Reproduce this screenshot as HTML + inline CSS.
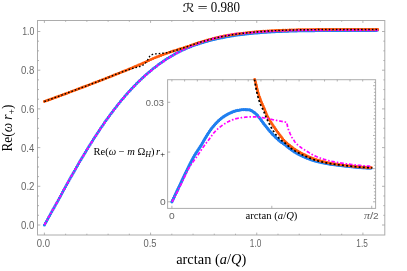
<!DOCTYPE html>
<html><head><meta charset="utf-8"><title>plot</title>
<style>html,body{margin:0;padding:0;background:#fff;overflow:hidden}svg{display:block;will-change:transform;opacity:0.999}</style>
</head><body>
<svg width="407" height="271" viewBox="0 0 407 271">
<rect width="407" height="271" fill="#fff"/>
<g fill="none" stroke-linejoin="round">
<path d="M44.40,225.00 L44.88,224.13 L45.37,223.25 L45.85,222.38 L46.34,221.51 L46.82,220.63 L47.30,219.76 L47.79,218.88 L48.27,218.01 L48.75,217.14 L49.24,216.27 L49.72,215.39 L50.21,214.52 L50.69,213.65 L51.17,212.78 L51.66,211.91 L52.14,211.04 L52.63,210.17 L53.11,209.30 L53.59,208.43 L54.08,207.56 L54.56,206.69 L55.04,205.83 L55.53,204.96 L56.01,204.10 L56.50,203.23 L56.98,202.37 L57.46,201.50 L57.95,200.64 L58.43,199.78 L58.91,198.90 L59.39,198.01 L59.87,197.12 L60.35,196.24 L60.82,195.36 L61.30,194.48 L61.78,193.60 L62.26,192.72 L62.74,191.84 L63.22,190.97 L63.70,190.09 L64.18,189.21 L64.66,188.33 L65.14,187.46 L65.62,186.58 L66.11,185.70 L66.59,184.81 L67.08,183.93 L67.57,183.05 L68.06,182.16 L68.56,181.27 L69.06,180.38 L69.55,179.48 L70.06,178.59 L70.56,177.69 L71.06,176.79 L71.56,175.90 L72.07,175.01 L72.57,174.11 L73.08,173.22 L73.58,172.33 L74.09,171.44 L74.60,170.54 L75.11,169.65 L75.63,168.75 L76.14,167.85 L76.66,166.95 L77.18,166.04 L77.71,165.14 L78.24,164.23 L78.77,163.31 L79.30,162.40 L79.84,161.48 L80.39,160.55 L80.94,159.62 L81.49,158.68 L82.05,157.74 L82.61,156.79 L83.19,155.83 L83.78,154.85 L84.37,153.86 L84.97,152.87 L85.58,151.87 L86.20,150.86 L86.82,149.85 L87.44,148.84 L88.06,147.83 L88.69,146.82 L89.31,145.82 L89.94,144.82 L90.56,143.83 L91.18,142.84 L91.79,141.87 L92.40,140.91 L93.00,139.96 L93.60,139.03 L94.19,138.12 L94.76,137.22 L95.33,136.34 L95.88,135.49 L96.43,134.64 L96.98,133.80 L97.53,132.96 L98.09,132.11 L98.65,131.25 L99.23,130.39 L99.80,129.53 L100.37,128.68 L100.95,127.82 L101.53,126.97 L102.11,126.11 L102.70,125.25 L103.29,124.39 L103.89,123.53 L104.49,122.65 L105.11,121.78 L105.73,120.89 L106.36,120.00 L107.00,119.10 L107.64,118.20 L108.30,117.29 L108.95,116.38 L109.62,115.47 L110.29,114.56 L110.97,113.64 L111.66,112.71 L112.36,111.78 L113.06,110.85 L113.78,109.91 L114.50,108.97 L115.23,108.02 L115.97,107.06 L116.73,106.10 L117.49,105.14 L118.27,104.17 L119.06,103.19 L119.85,102.21 L120.66,101.22 L121.48,100.23 L122.30,99.24 L123.14,98.25 L123.98,97.25 L124.84,96.26 L125.70,95.26 L126.57,94.27 L127.45,93.28 L128.34,92.29 L129.24,91.29 L130.15,90.29 L131.08,89.29 L132.02,88.28 L132.98,87.28 L133.94,86.27 L134.92,85.27 L135.90,84.27 L136.89,83.27 L137.89,82.28 L138.89,81.30 L139.90,80.33 L140.91,79.36 L141.93,78.40 L142.96,77.45 L144.00,76.50 L145.05,75.55 L146.11,74.61 L147.18,73.68 L148.25,72.75 L149.32,71.84 L150.40,70.94 L151.49,70.05 L152.57,69.17 L153.66,68.30 L154.76,67.44 L155.87,66.59 L156.98,65.74 L158.10,64.91 L159.22,64.08 L160.35,63.27 L161.48,62.48 L162.60,61.69 L163.73,60.92 L164.85,60.17 L165.98,59.43 L167.12,58.69 L168.27,57.97 L169.41,57.25 L170.55,56.56 L171.68,55.89 L172.79,55.24 L173.87,54.61 L174.92,54.02 L175.95,53.45 L176.97,52.91 L177.97,52.39 L178.95,51.89 L179.90,51.42 L180.84,50.95 L181.76,50.51 L182.67,50.08 L183.56,49.66 L184.42,49.27 L185.26,48.89 L186.08,48.54 L186.85,48.20 L187.60,47.89 L188.33,47.59 L189.03,47.31 L189.73,47.03 L190.41,46.77 L191.09,46.50 L191.78,46.24 L192.47,45.98 L193.15,45.73 L193.83,45.48 L194.50,45.24 L195.17,45.01 L195.84,44.78 L196.50,44.55 L197.17,44.32 L197.85,44.09 L198.53,43.87 L199.22,43.64 L199.92,43.42 L200.62,43.20 L201.32,42.98 L202.03,42.76 L202.73,42.54 L203.44,42.33 L204.16,42.12 L204.87,41.91 L205.59,41.70 L206.32,41.50 L207.05,41.30 L207.78,41.09 L208.52,40.89 L209.26,40.69 L210.01,40.50 L210.77,40.30 L211.53,40.11 L212.30,39.91 L213.07,39.72 L213.85,39.53 L214.64,39.34 L215.43,39.16 L216.23,38.97 L217.04,38.79 L217.85,38.61 L218.66,38.43 L219.49,38.25 L220.32,38.07 L221.15,37.90 L222.00,37.72 L222.85,37.55 L223.70,37.38 L224.57,37.21 L225.46,37.04 L226.36,36.87 L227.27,36.70 L228.19,36.53 L229.12,36.37 L230.05,36.20 L230.97,36.05 L231.89,35.89 L232.81,35.74 L233.71,35.60 L234.61,35.46 L235.50,35.33 L236.38,35.20 L237.26,35.08 L238.14,34.96 L239.03,34.84 L239.91,34.72 L240.79,34.61 L241.68,34.50 L242.58,34.39 L243.48,34.28 L244.39,34.17 L245.31,34.07 L246.24,33.96 L247.18,33.86 L248.13,33.75 L249.08,33.65 L250.04,33.55 L251.01,33.46 L251.98,33.36 L252.95,33.27 L253.94,33.18 L254.92,33.09 L255.91,33.00 L256.91,32.91 L257.90,32.83 L258.91,32.75 L259.91,32.67 L260.93,32.59 L261.95,32.51 L262.98,32.44 L264.01,32.36 L265.05,32.29 L266.09,32.22 L267.13,32.15 L268.17,32.09 L269.22,32.02 L270.26,31.96 L271.31,31.90 L272.36,31.85 L273.41,31.79 L274.47,31.73 L275.53,31.68 L276.59,31.63 L277.65,31.58 L278.72,31.53 L279.79,31.49 L280.86,31.44 L281.94,31.40 L283.02,31.35 L284.10,31.31 L285.19,31.27 L286.28,31.23 L287.38,31.20 L288.47,31.16 L289.57,31.12 L290.67,31.09 L291.78,31.06 L292.88,31.03 L293.98,31.00 L295.08,30.97 L296.19,30.94 L297.29,30.91 L298.40,30.89 L299.50,30.86 L300.61,30.84 L301.72,30.82 L302.83,30.80 L303.94,30.78 L305.05,30.76 L306.16,30.74 L307.27,30.72 L308.39,30.71 L309.50,30.69 L310.62,30.68 L311.74,30.66 L312.85,30.65 L313.97,30.63 L315.09,30.62 L316.21,30.61 L317.33,30.60 L318.45,30.59 L319.57,30.58 L320.69,30.57 L321.81,30.56 L322.93,30.56 L324.04,30.55 L325.16,30.54 L326.28,30.54 L327.40,30.53 L328.52,30.53 L329.64,30.52 L330.76,30.52 L331.88,30.52 L333.00,30.51 L334.12,30.51 L335.25,30.51 L336.37,30.51 L337.49,30.51 L338.61,30.50 L339.73,30.50 L340.85,30.50 L341.97,30.50 L343.09,30.50 L344.21,30.50 L345.33,30.51 L346.46,30.51 L347.58,30.51 L348.70,30.51 L349.82,30.51 L350.94,30.51 L352.07,30.51 L353.19,30.51 L354.31,30.52 L355.44,30.52 L356.56,30.52 L357.68,30.52 L358.81,30.52 L359.93,30.52 L361.06,30.52 L362.18,30.53 L363.31,30.53 L364.43,30.53 L365.56,30.53 L366.68,30.53 L367.81,30.54 L368.93,30.54 L370.06,30.54 L371.19,30.54 L372.31,30.54 L373.44,30.54 L374.57,30.55 L375.69,30.55 L376.82,30.55 L377.95,30.55" stroke="#1f7ff0" stroke-width="2.0" stroke-linecap="round"/>
<path d="M44.40,225.00 L44.88,224.13 L45.37,223.25 L45.85,222.38 L46.34,221.51 L46.82,220.63 L47.30,219.76 L47.79,218.88 L48.27,218.01 L48.75,217.14 L49.24,216.27 L49.72,215.39 L50.21,214.52 L50.69,213.65 L51.17,212.78 L51.66,211.91 L52.14,211.04 L52.63,210.17 L53.11,209.30 L53.59,208.43 L54.08,207.56 L54.56,206.69 L55.04,205.83 L55.53,204.96 L56.01,204.10 L56.50,203.23 L56.98,202.37 L57.46,201.50 L57.95,200.64 L58.43,199.78 L58.91,198.90 L59.39,198.01 L59.87,197.12 L60.35,196.24 L60.82,195.36 L61.30,194.48 L61.78,193.60 L62.26,192.72 L62.74,191.84 L63.22,190.97 L63.70,190.09 L64.18,189.21 L64.66,188.33 L65.14,187.46 L65.62,186.58 L66.11,185.70 L66.59,184.81 L67.08,183.93 L67.57,183.05 L68.06,182.16 L68.56,181.27 L69.06,180.38 L69.55,179.48 L70.06,178.59 L70.56,177.69 L71.06,176.79 L71.56,175.90 L72.07,175.01 L72.57,174.11 L73.08,173.22 L73.58,172.33 L74.09,171.44 L74.60,170.54 L75.11,169.65 L75.63,168.75 L76.14,167.85 L76.66,166.95 L77.18,166.04 L77.71,165.14 L78.24,164.23 L78.77,163.31 L79.30,162.40 L79.84,161.48 L80.39,160.55 L80.94,159.62 L81.49,158.68 L82.05,157.74 L82.61,156.79 L83.19,155.83 L83.78,154.85 L84.37,153.86 L84.97,152.87 L85.58,151.87 L86.20,150.86 L86.82,149.85 L87.44,148.84 L88.06,147.83 L88.69,146.82 L89.31,145.82 L89.94,144.82 L90.56,143.83 L91.18,142.84 L91.79,141.87 L92.40,140.91 L93.00,139.96 L93.60,139.03 L94.19,138.12 L94.76,137.22 L95.33,136.34 L95.88,135.49 L96.43,134.64 L96.98,133.80 L97.53,132.96 L98.09,132.11 L98.65,131.25 L99.23,130.39 L99.80,129.53 L100.37,128.68 L100.95,127.82 L101.53,126.97 L102.11,126.11 L102.70,125.25 L103.29,124.39 L103.89,123.53 L104.49,122.65 L105.11,121.78 L105.73,120.89 L106.36,120.00 L107.00,119.10 L107.64,118.20 L108.30,117.29 L108.95,116.38 L109.62,115.47 L110.29,114.56 L110.97,113.64 L111.66,112.71 L112.36,111.78 L113.06,110.85 L113.78,109.91 L114.50,108.97 L115.23,108.02 L115.97,107.06 L116.73,106.10 L117.49,105.14 L118.27,104.17 L119.06,103.19 L119.85,102.21 L120.66,101.22 L121.48,100.23 L122.30,99.24 L123.14,98.25 L123.98,97.25 L124.84,96.26 L125.70,95.26 L126.57,94.27 L127.45,93.28 L128.34,92.29 L129.24,91.29 L130.15,90.29 L131.08,89.29 L132.02,88.28 L132.98,87.28 L133.94,86.27 L134.92,85.27 L135.90,84.27 L136.89,83.27 L137.89,82.28 L138.89,81.30 L139.90,80.33 L140.91,79.36 L141.93,78.40 L142.96,77.45 L144.00,76.50 L145.05,75.55 L146.11,74.61 L147.18,73.68 L148.25,72.75 L149.32,71.84 L150.40,70.94 L151.49,70.05 L152.57,69.17 L153.66,68.30 L154.76,67.44 L155.87,66.59 L156.98,65.74 L158.10,64.91 L159.22,64.08 L160.35,63.27 L161.48,62.48 L162.60,61.69 L163.73,60.92 L164.85,60.17 L165.98,59.43 L167.12,58.69 L168.27,57.97 L169.41,57.25 L170.55,56.56 L171.68,55.89 L172.79,55.24 L173.87,54.61 L174.92,54.02 L175.95,53.45 L176.97,52.91 L177.97,52.39 L178.95,51.89 L179.90,51.42 L180.84,50.95 L181.76,50.51 L182.67,50.08 L183.56,49.66 L184.42,49.27 L185.26,48.89 L186.08,48.54 L186.85,48.20 L187.60,47.89 L188.33,47.59 L189.03,47.31 L189.73,47.03 L190.41,46.77 L191.09,46.50 L191.78,46.24 L192.47,45.98 L193.15,45.73 L193.83,45.48 L194.50,45.24 L195.17,45.01 L195.84,44.78 L196.50,44.55 L197.17,44.32 L197.85,44.09 L198.53,43.87 L199.22,43.64 L199.92,43.42 L200.62,43.20 L201.32,42.98 L202.03,42.76 L202.73,42.54 L203.44,42.33 L204.16,42.12 L204.87,41.91 L205.59,41.70 L206.32,41.50 L207.05,41.30 L207.78,41.09 L208.52,40.89 L209.26,40.69 L210.01,40.50 L210.77,40.30 L211.53,40.11 L212.30,39.91 L213.07,39.72 L213.85,39.53 L214.64,39.34 L215.43,39.16 L216.23,38.97 L217.04,38.79 L217.85,38.61 L218.66,38.43 L219.49,38.25 L220.32,38.07 L221.15,37.90 L222.00,37.72 L222.85,37.55 L223.70,37.38 L224.57,37.21 L225.46,37.04 L226.36,36.87 L227.27,36.70 L228.19,36.53 L229.12,36.37 L230.05,36.20 L230.97,36.05 L231.89,35.89 L232.81,35.74 L233.71,35.60 L234.61,35.46 L235.50,35.33 L236.38,35.20 L237.26,35.08 L238.14,34.96 L239.03,34.84 L239.91,34.72 L240.79,34.61 L241.68,34.50 L242.58,34.39 L243.48,34.28 L244.39,34.17 L245.31,34.07 L246.24,33.96 L247.18,33.86 L248.13,33.75 L249.08,33.65 L250.04,33.55 L251.01,33.46 L251.98,33.36 L252.95,33.27 L253.94,33.18 L254.92,33.09 L255.91,33.00 L256.91,32.91 L257.90,32.83 L258.91,32.75 L259.91,32.67 L260.93,32.59 L261.95,32.51 L262.98,32.44 L264.01,32.36 L265.05,32.29 L266.09,32.22 L267.13,32.15 L268.17,32.09 L269.22,32.02 L270.26,31.96 L271.31,31.90 L272.36,31.85 L273.41,31.79 L274.47,31.73 L275.53,31.68 L276.59,31.63 L277.65,31.58 L278.72,31.53 L279.79,31.49 L280.86,31.44 L281.94,31.40 L283.02,31.35 L284.10,31.31 L285.19,31.27 L286.28,31.23 L287.38,31.20 L288.47,31.16 L289.57,31.12 L290.67,31.09 L291.78,31.06 L292.88,31.03 L293.98,31.00 L295.08,30.97 L296.19,30.94 L297.29,30.91 L298.40,30.89 L299.50,30.86 L300.61,30.84 L301.72,30.82 L302.83,30.80 L303.94,30.78 L305.05,30.76 L306.16,30.74 L307.27,30.72 L308.39,30.71 L309.50,30.69 L310.62,30.68 L311.74,30.66 L312.85,30.65 L313.97,30.63 L315.09,30.62 L316.21,30.61 L317.33,30.60 L318.45,30.59 L319.57,30.58 L320.69,30.57 L321.81,30.56 L322.93,30.56 L324.04,30.55 L325.16,30.54 L326.28,30.54 L327.40,30.53 L328.52,30.53 L329.64,30.52 L330.76,30.52 L331.88,30.52 L333.00,30.51 L334.12,30.51 L335.25,30.51 L336.37,30.51 L337.49,30.51 L338.61,30.50 L339.73,30.50 L340.85,30.50 L341.97,30.50 L343.09,30.50 L344.21,30.50 L345.33,30.51 L346.46,30.51 L347.58,30.51 L348.70,30.51 L349.82,30.51 L350.94,30.51 L352.07,30.51 L353.19,30.51 L354.31,30.52 L355.44,30.52 L356.56,30.52 L357.68,30.52 L358.81,30.52 L359.93,30.52 L361.06,30.52 L362.18,30.53 L363.31,30.53 L364.43,30.53 L365.56,30.53 L366.68,30.53 L367.81,30.54 L368.93,30.54 L370.06,30.54 L371.19,30.54 L372.31,30.54 L373.44,30.54 L374.57,30.55 L375.69,30.55 L376.82,30.55 L377.95,30.55" stroke="#1f7ff0" stroke-width="3.0" stroke-linecap="round" stroke-dasharray="0 2.2"/>
<path d="M44.40,101.50 L45.31,101.17 L46.22,100.84 L47.14,100.51 L48.05,100.19 L48.96,99.86 L49.87,99.52 L50.78,99.19 L51.69,98.86 L52.61,98.53 L53.52,98.20 L54.43,97.87 L55.34,97.53 L56.25,97.20 L57.16,96.87 L58.07,96.53 L58.98,96.20 L59.89,95.86 L60.80,95.53 L61.71,95.19 L62.62,94.86 L63.53,94.52 L64.44,94.18 L65.34,93.85 L66.25,93.51 L67.16,93.17 L68.07,92.83 L68.98,92.49 L69.89,92.15 L70.80,91.81 L71.70,91.47 L72.61,91.13 L73.52,90.79 L74.43,90.45 L75.33,90.11 L76.24,89.77 L77.15,89.43 L78.05,89.08 L78.96,88.74 L79.87,88.40 L80.77,88.06 L81.68,87.71 L82.59,87.37 L83.49,87.02 L84.40,86.68 L85.31,86.34 L86.21,85.99 L87.12,85.65 L88.02,85.30 L88.93,84.95 L89.83,84.61 L90.74,84.26 L91.64,83.91 L92.55,83.57 L93.46,83.22 L94.36,82.87 L95.26,82.52 L96.17,82.18 L97.07,81.83 L97.98,81.48 L98.88,81.13 L99.79,80.78 L100.69,80.43 L101.60,80.08 L102.50,79.73 L103.40,79.38 L104.31,79.03 L105.21,78.68 L106.11,78.33 L107.02,77.97 L107.92,77.62 L108.82,77.27 L109.72,76.91 L110.63,76.56 L111.53,76.20 L112.43,75.85 L113.33,75.49 L114.23,75.13 L115.13,74.77 L116.03,74.42 L116.93,74.06 L117.84,73.70 L118.73,73.34 L119.63,72.97 L120.53,72.61 L121.43,72.25 L122.33,71.89 L123.23,71.52 L124.13,71.16 L125.02,70.79 L125.92,70.42 L126.82,70.06 L127.72,69.69 L128.61,69.32 L129.51,68.95 L130.40,68.58 L131.30,68.21 L132.19,67.83 L133.09,67.46 L133.98,67.08 L134.88,66.71 L135.77,66.33 L136.66,65.95 L137.55,65.57 L138.44,65.19 L139.33,64.80 L140.22,64.42 L141.11,64.02 L141.99,63.63 L142.88,63.23 L143.76,62.82 L144.64,62.42 L145.52,62.01 L146.40,61.60 L147.28,61.20 L148.16,60.79 L149.04,60.39 L149.93,59.98 L150.81,59.59 L151.70,59.19 L152.59,58.81 L153.48,58.43 L154.37,58.05 L155.27,57.69 L156.16,57.32 L157.06,56.96 L157.96,56.60 L158.87,56.25 L159.77,55.90 L160.67,55.55 L161.58,55.20 L162.49,54.86 L163.40,54.52 L164.31,54.18 L165.22,53.85 L166.13,53.52 L167.04,53.19 L167.96,52.87 L168.87,52.55 L169.79,52.23 L170.70,51.92 L171.62,51.62 L172.54,51.32 L173.47,51.02 L174.39,50.73 L175.32,50.44 L176.24,50.15 L177.17,49.86 L178.09,49.57 L179.02,49.29 L179.95,49.00 L180.87,48.72 L181.80,48.43 L182.73,48.13 L183.65,47.84 L184.57,47.54 L185.49,47.24 L186.41,46.93 L187.33,46.62 L188.25,46.30 L189.16,45.98 L190.08,45.66 L190.99,45.34 L191.91,45.02 L192.82,44.70 L193.74,44.38 L194.65,44.06 L195.57,43.75 L196.49,43.43 L197.41,43.13 L198.33,42.83 L199.25,42.53 L200.18,42.25 L201.10,41.96 L202.03,41.68 L202.96,41.41 L203.89,41.13 L204.82,40.86 L205.75,40.60 L206.69,40.33 L207.62,40.07 L208.56,39.81 L209.49,39.56 L210.43,39.31 L211.37,39.06 L212.31,38.82 L213.24,38.58 L214.18,38.34 L215.12,38.11 L216.06,37.87 L217.01,37.64 L217.95,37.41 L218.89,37.19 L219.83,36.97 L220.78,36.75 L221.72,36.53 L222.67,36.32 L223.62,36.11 L224.56,35.90 L225.51,35.70 L225.51,35.70 L226.06,35.60 L226.61,35.51 L227.16,35.42 L227.71,35.33 L228.27,35.24 L228.84,35.15 L229.40,35.06 L229.98,34.97 L230.56,34.88 L231.15,34.79 L231.75,34.70 L232.35,34.61 L232.97,34.52 L233.60,34.42 L234.23,34.33 L234.88,34.24 L235.54,34.14 L236.21,34.05 L236.89,33.95 L237.57,33.86 L238.27,33.77 L238.97,33.67 L239.67,33.58 L240.38,33.49 L241.10,33.40 L241.82,33.31 L242.54,33.22 L243.26,33.13 L243.99,33.05 L244.71,32.96 L245.44,32.88 L246.17,32.80 L246.90,32.72 L247.64,32.64 L248.38,32.56 L249.13,32.49 L249.88,32.41 L250.64,32.34 L251.40,32.26 L252.16,32.19 L252.93,32.12 L253.70,32.05 L254.47,31.98 L255.25,31.91 L256.03,31.84 L256.81,31.78 L257.59,31.71 L258.38,31.65 L259.17,31.58 L259.96,31.52 L260.76,31.46 L261.56,31.40 L262.37,31.34 L263.18,31.29 L263.99,31.23 L264.81,31.18 L265.62,31.12 L266.44,31.07 L267.26,31.02 L268.09,30.97 L268.91,30.92 L269.73,30.87 L270.56,30.82 L271.38,30.78 L272.21,30.73 L273.04,30.69 L273.87,30.65 L274.71,30.61 L275.54,30.57 L276.38,30.53 L277.22,30.49 L278.06,30.46 L278.90,30.42 L279.75,30.38 L280.59,30.35 L281.44,30.32 L282.30,30.28 L283.15,30.25 L284.01,30.22 L284.87,30.19 L285.73,30.16 L286.60,30.13 L287.46,30.10 L288.33,30.08 L289.21,30.05 L290.08,30.02 L290.95,30.00 L291.83,29.97 L292.70,29.95 L293.58,29.93 L294.45,29.91 L295.33,29.89 L296.21,29.87 L297.09,29.85 L297.97,29.83 L298.85,29.81 L299.73,29.79 L300.61,29.77 L301.50,29.76 L302.38,29.74 L303.27,29.73 L304.15,29.71 L305.04,29.70 L305.93,29.68 L306.82,29.67 L307.70,29.66 L308.60,29.65 L309.49,29.63 L310.38,29.62 L311.27,29.61 L312.17,29.60 L313.06,29.59 L313.96,29.58 L314.85,29.57 L315.75,29.57 L316.65,29.56 L317.54,29.55 L318.44,29.54 L319.34,29.53 L320.24,29.53 L321.13,29.52 L322.03,29.52 L322.93,29.51 L323.83,29.51 L324.72,29.50 L325.62,29.50 L326.52,29.49 L327.42,29.49 L328.32,29.49 L329.22,29.48 L330.12,29.48 L331.02,29.48 L331.92,29.47 L332.82,29.47 L333.71,29.47 L334.61,29.47 L335.51,29.47 L336.41,29.47 L337.31,29.47 L338.21,29.47 L339.11,29.47 L340.01,29.47 L340.91,29.47 L341.81,29.47 L342.71,29.47 L343.61,29.47 L344.52,29.47 L345.42,29.47 L346.32,29.47 L347.22,29.47 L348.12,29.47 L349.02,29.47 L349.92,29.47 L350.82,29.48 L351.72,29.48 L352.63,29.48 L353.53,29.48 L354.43,29.48 L355.33,29.48 L356.24,29.48 L357.14,29.48 L358.04,29.49 L358.94,29.49 L359.85,29.49 L360.75,29.49 L361.65,29.49 L362.56,29.49 L363.46,29.49 L364.37,29.50 L365.27,29.50 L366.18,29.50 L367.08,29.50 L367.99,29.50 L368.89,29.50 L369.80,29.50 L370.70,29.50 L371.61,29.51 L372.51,29.51 L373.42,29.51 L374.32,29.51 L375.23,29.51 L376.14,29.51 L377.04,29.51 L377.95,29.51" stroke="#ff5a0a" stroke-width="2.0" stroke-linecap="round"/>
<path d="M44.40,101.50 L45.31,101.17 L46.22,100.84 L47.14,100.51 L48.05,100.19 L48.96,99.86 L49.87,99.52 L50.78,99.19 L51.69,98.86 L52.61,98.53 L53.52,98.20 L54.43,97.87 L55.34,97.53 L56.25,97.20 L57.16,96.87 L58.07,96.53 L58.98,96.20 L59.89,95.86 L60.80,95.53 L61.71,95.19 L62.62,94.86 L63.53,94.52 L64.44,94.18 L65.34,93.85 L66.25,93.51 L67.16,93.17 L68.07,92.83 L68.98,92.49 L69.89,92.15 L70.80,91.81 L71.70,91.47 L72.61,91.13 L73.52,90.79 L74.43,90.45 L75.33,90.11 L76.24,89.77 L77.15,89.43 L78.05,89.08 L78.96,88.74 L79.87,88.40 L80.77,88.06 L81.68,87.71 L82.59,87.37 L83.49,87.02 L84.40,86.68 L85.31,86.34 L86.21,85.99 L87.12,85.65 L88.02,85.30 L88.93,84.95 L89.83,84.61 L90.74,84.26 L91.64,83.91 L92.55,83.57 L93.46,83.22 L94.36,82.87 L95.26,82.52 L96.17,82.18 L97.07,81.83 L97.98,81.48 L98.88,81.13 L99.79,80.78 L100.69,80.43 L101.60,80.08 L102.50,79.73 L103.40,79.38 L104.31,79.03 L105.21,78.68 L106.11,78.33 L107.02,77.97 L107.92,77.62 L108.82,77.27 L109.72,76.91 L110.63,76.56 L111.53,76.20 L112.43,75.85 L113.33,75.49 L114.23,75.13 L115.13,74.77 L116.03,74.42 L116.93,74.06 L117.84,73.70 L118.73,73.34 L119.63,72.97 L120.53,72.61 L121.43,72.25 L122.33,71.89 L123.23,71.52 L124.13,71.16 L125.02,70.79 L125.92,70.42 L126.82,70.06 L127.72,69.69 L128.61,69.32 L129.51,68.95 L130.40,68.58 L131.30,68.21 L132.19,67.83 L133.09,67.46 L133.98,67.08 L134.88,66.71 L135.77,66.33 L136.66,65.95 L137.55,65.57 L138.44,65.19 L139.33,64.80 L140.22,64.42 L141.11,64.02 L141.99,63.63 L142.88,63.23 L143.76,62.82 L144.64,62.42 L145.52,62.01 L146.40,61.60 L147.28,61.20 L148.16,60.79 L149.04,60.39 L149.93,59.98 L150.81,59.59 L151.70,59.19 L152.59,58.81 L153.48,58.43 L154.37,58.05 L155.27,57.69 L156.16,57.32 L157.06,56.96 L157.96,56.60 L158.87,56.25 L159.77,55.90 L160.67,55.55 L161.58,55.20 L162.49,54.86 L163.40,54.52 L164.31,54.18 L165.22,53.85 L166.13,53.52 L167.04,53.19 L167.96,52.87 L168.87,52.55 L169.79,52.23 L170.70,51.92 L171.62,51.62 L172.54,51.32 L173.47,51.02 L174.39,50.73 L175.32,50.44 L176.24,50.15 L177.17,49.86 L178.09,49.57 L179.02,49.29 L179.95,49.00 L180.87,48.72 L181.80,48.43 L182.73,48.13 L183.65,47.84 L184.57,47.54 L185.49,47.24 L186.41,46.93 L187.33,46.62 L188.25,46.30 L189.16,45.98 L190.08,45.66 L190.99,45.34 L191.91,45.02 L192.82,44.70 L193.74,44.38 L194.65,44.06 L195.57,43.75 L196.49,43.43 L197.41,43.13 L198.33,42.83 L199.25,42.53 L200.18,42.25 L201.10,41.96 L202.03,41.68 L202.96,41.41 L203.89,41.13 L204.82,40.86 L205.75,40.60 L206.69,40.33 L207.62,40.07 L208.56,39.81 L209.49,39.56 L210.43,39.31 L211.37,39.06 L212.31,38.82 L213.24,38.58 L214.18,38.34 L215.12,38.11 L216.06,37.87 L217.01,37.64 L217.95,37.41 L218.89,37.19 L219.83,36.97 L220.78,36.75 L221.72,36.53 L222.67,36.32 L223.62,36.11 L224.56,35.90 L225.51,35.70 L225.51,35.70 L226.06,35.60 L226.61,35.51 L227.16,35.42 L227.71,35.33 L228.27,35.24 L228.84,35.15 L229.40,35.06 L229.98,34.97 L230.56,34.88 L231.15,34.79 L231.75,34.70 L232.35,34.61 L232.97,34.52 L233.60,34.42 L234.23,34.33 L234.88,34.24 L235.54,34.14 L236.21,34.05 L236.89,33.95 L237.57,33.86 L238.27,33.77 L238.97,33.67 L239.67,33.58 L240.38,33.49 L241.10,33.40 L241.82,33.31 L242.54,33.22 L243.26,33.13 L243.99,33.05 L244.71,32.96 L245.44,32.88 L246.17,32.80 L246.90,32.72 L247.64,32.64 L248.38,32.56 L249.13,32.49 L249.88,32.41 L250.64,32.34 L251.40,32.26 L252.16,32.19 L252.93,32.12 L253.70,32.05 L254.47,31.98 L255.25,31.91 L256.03,31.84 L256.81,31.78 L257.59,31.71 L258.38,31.65 L259.17,31.58 L259.96,31.52 L260.76,31.46 L261.56,31.40 L262.37,31.34 L263.18,31.29 L263.99,31.23 L264.81,31.18 L265.62,31.12 L266.44,31.07 L267.26,31.02 L268.09,30.97 L268.91,30.92 L269.73,30.87 L270.56,30.82 L271.38,30.78 L272.21,30.73 L273.04,30.69 L273.87,30.65 L274.71,30.61 L275.54,30.57 L276.38,30.53 L277.22,30.49 L278.06,30.46 L278.90,30.42 L279.75,30.38 L280.59,30.35 L281.44,30.32 L282.30,30.28 L283.15,30.25 L284.01,30.22 L284.87,30.19 L285.73,30.16 L286.60,30.13 L287.46,30.10 L288.33,30.08 L289.21,30.05 L290.08,30.02 L290.95,30.00 L291.83,29.97 L292.70,29.95 L293.58,29.93 L294.45,29.91 L295.33,29.89 L296.21,29.87 L297.09,29.85 L297.97,29.83 L298.85,29.81 L299.73,29.79 L300.61,29.77 L301.50,29.76 L302.38,29.74 L303.27,29.73 L304.15,29.71 L305.04,29.70 L305.93,29.68 L306.82,29.67 L307.70,29.66 L308.60,29.65 L309.49,29.63 L310.38,29.62 L311.27,29.61 L312.17,29.60 L313.06,29.59 L313.96,29.58 L314.85,29.57 L315.75,29.57 L316.65,29.56 L317.54,29.55 L318.44,29.54 L319.34,29.53 L320.24,29.53 L321.13,29.52 L322.03,29.52 L322.93,29.51 L323.83,29.51 L324.72,29.50 L325.62,29.50 L326.52,29.49 L327.42,29.49 L328.32,29.49 L329.22,29.48 L330.12,29.48 L331.02,29.48 L331.92,29.47 L332.82,29.47 L333.71,29.47 L334.61,29.47 L335.51,29.47 L336.41,29.47 L337.31,29.47 L338.21,29.47 L339.11,29.47 L340.01,29.47 L340.91,29.47 L341.81,29.47 L342.71,29.47 L343.61,29.47 L344.52,29.47 L345.42,29.47 L346.32,29.47 L347.22,29.47 L348.12,29.47 L349.02,29.47 L349.92,29.47 L350.82,29.48 L351.72,29.48 L352.63,29.48 L353.53,29.48 L354.43,29.48 L355.33,29.48 L356.24,29.48 L357.14,29.48 L358.04,29.49 L358.94,29.49 L359.85,29.49 L360.75,29.49 L361.65,29.49 L362.56,29.49 L363.46,29.49 L364.37,29.50 L365.27,29.50 L366.18,29.50 L367.08,29.50 L367.99,29.50 L368.89,29.50 L369.80,29.50 L370.70,29.50 L371.61,29.51 L372.51,29.51 L373.42,29.51 L374.32,29.51 L375.23,29.51 L376.14,29.51 L377.04,29.51 L377.95,29.51" stroke="#ff5a0a" stroke-width="2.9" stroke-linecap="round" stroke-dasharray="0 2.2"/>
<path d="M44.57,224.71 L45.19,223.58 L45.82,222.45 L46.44,221.32 L47.06,220.20 L47.68,219.07 L48.30,217.95 L48.92,216.83 L49.54,215.71 L50.15,214.60 L50.77,213.48 L51.38,212.37 L52.00,211.26 L52.61,210.16 L53.22,209.05 L53.83,207.95 L54.44,206.86 L55.05,205.76 L55.65,204.67 L56.26,203.58 L56.86,202.50 L57.47,201.42 L58.07,200.34 L58.67,199.25 L59.26,198.15 L59.85,197.06 L60.43,195.99 L61.01,194.93 L61.58,193.88 L62.15,192.83 L62.72,191.80 L63.28,190.76 L63.84,189.74 L64.40,188.71 L64.96,187.69 L65.52,186.66 L66.09,185.64 L66.66,184.61 L67.23,183.58 L67.80,182.54 L68.38,181.49 L68.97,180.44 L69.56,179.38 L70.16,178.30 L70.77,177.22 L71.39,176.12 L72.02,175.01 L72.66,173.88 L73.31,172.73 L73.98,171.57 L74.66,170.37 L75.37,169.15 L76.09,167.90 L76.82,166.64 L77.57,165.35 L78.33,164.05 L79.10,162.75 L79.88,161.43 L80.66,160.12 L81.44,158.80 L82.23,157.49 L83.01,156.18 L83.79,154.89 L84.57,153.61 L85.33,152.35 L86.09,151.11 L86.84,149.88 L87.59,148.67 L88.34,147.46 L89.09,146.26 L89.83,145.07 L90.57,143.88 L91.32,142.70 L92.06,141.53 L92.81,140.36 L93.55,139.19 L94.30,138.03 L95.05,136.87 L95.81,135.70 L96.57,134.54 L97.34,133.38 L98.11,132.22 L98.88,131.05 L99.67,129.88 L100.46,128.71 L101.27,127.52 L102.08,126.34 L102.90,125.15 L103.72,123.97 L104.54,122.80 L105.36,121.63 L106.17,120.49 L106.97,119.37 L107.76,118.27 L108.54,117.19 L109.31,116.12 L110.09,115.06 L110.86,114.01 L111.65,112.95 L112.44,111.89 L113.25,110.82 L114.07,109.74 L114.92,108.64 L115.79,107.52 L116.69,106.37 L117.62,105.20 L118.57,104.02 L119.54,102.82 L120.52,101.62 L121.53,100.40 L122.55,99.18 L123.58,97.96 L124.63,96.74 L125.69,95.53 L126.75,94.32 L127.82,93.11 L128.90,91.92 L129.99,90.72 L131.10,89.53 L132.22,88.33 L133.35,87.14 L134.50,85.94 L135.66,84.76 L136.83,83.58 L138.02,82.41 L139.20,81.25 L140.40,80.10 L141.61,78.96 L142.83,77.83 L144.07,76.70 L145.31,75.57 L146.57,74.46 L147.84,73.36 L149.11,72.28 L150.39,71.20 L151.68,70.15 L152.96,69.12 L154.25,68.10 L155.55,67.09 L156.86,66.09 L158.18,65.11 L159.50,64.14 L160.82,63.19 L162.15,62.26 L163.47,61.35 L164.79,60.46 L166.12,59.59 L167.44,58.73 L168.77,57.89 L170.10,57.06 L171.43,56.26 L172.76,55.47 L174.09,54.69 L175.42,53.93 L176.75,53.20 L178.08,52.47 L179.41,51.77 L180.75,51.08 L182.08,50.40 L183.41,49.75 L184.74,49.10 L186.07,48.48 L187.40,47.87 L188.72,47.27 L190.05,46.69 L191.37,46.12 L192.70,45.57 L194.02,45.03 L195.34,44.51 L196.66,44.00 L197.97,43.50 L199.29,43.02 L200.60,42.55 L201.91,42.09 L203.22,41.65 L204.53,41.21 L205.83,40.79 L207.13,40.38 L208.44,39.99 L209.74,39.60 L211.04,39.22 L212.34,38.85 L213.65,38.49 L214.95,38.14 L216.26,37.80 L217.56,37.47 L218.87,37.15 L220.18,36.84 L221.49,36.53 L222.79,36.23 L224.10,35.94 L225.41,35.66 L226.72,35.39 L228.03,35.13 L229.34,34.87 L230.64,34.62 L231.95,34.38 L233.26,34.14 L234.57,33.91 L235.88,33.69 L236.38,33.61 L236.46,33.62 L236.56,33.64 L236.67,33.65 L236.80,33.66 L236.94,33.66 L237.10,33.67 L237.27,33.67 L237.44,33.67 L237.62,33.67 L237.82,33.66 L238.04,33.66 L238.29,33.65 L238.56,33.63 L238.86,33.61 L239.17,33.59 L239.49,33.57 L239.83,33.54 L240.17,33.51 L240.52,33.49 L240.86,33.46 L241.20,33.44 L241.54,33.42 L241.88,33.39 L242.22,33.37 L242.57,33.35 L242.93,33.32 L243.30,33.29 L243.69,33.27 L244.10,33.23 L244.53,33.20 L244.99,33.16 L245.47,33.12 L245.96,33.08 L246.46,33.03 L246.96,32.99 L247.45,32.95 L247.92,32.92 L248.38,32.88 L248.84,32.85 L249.31,32.82 L249.79,32.78 L250.30,32.74 L250.85,32.70 L251.42,32.66 L252.01,32.61 L252.63,32.56 L253.26,32.51 L253.90,32.45 L254.56,32.40 L255.23,32.35 L255.90,32.30 L256.58,32.25 L257.26,32.19 L257.94,32.14 L258.62,32.09 L259.31,32.05 L260.01,32.00 L260.72,31.95 L261.43,31.90 L262.15,31.85 L262.88,31.80 L263.61,31.75 L264.35,31.71 L265.09,31.66 L265.83,31.62 L266.58,31.57 L267.32,31.53 L268.07,31.49 L268.81,31.45 L269.56,31.41 L270.30,31.37 L271.04,31.33 L271.78,31.30 L272.53,31.26 L273.27,31.23 L274.02,31.20 L274.76,31.17 L275.51,31.13 L276.26,31.10 L277.02,31.07 L277.78,31.05 L278.54,31.02 L279.30,30.99 L280.07,30.96 L280.84,30.93 L281.61,30.91 L282.39,30.88 L283.18,30.86 L283.97,30.83 L284.77,30.80 L285.57,30.78 L286.37,30.76 L287.18,30.73 L288.00,30.71 L288.81,30.69 L289.63,30.66 L290.45,30.64 L291.27,30.62 L292.10,30.60 L292.92,30.58 L293.75,30.56 L294.57,30.55 L295.39,30.53 L296.22,30.51 L297.05,30.49 L297.88,30.48 L298.71,30.46 L299.54,30.45 L300.38,30.44 L301.21,30.42 L302.05,30.41 L302.89,30.40 L303.73,30.38 L304.57,30.37 L305.42,30.36 L306.26,30.35 L307.11,30.34 L307.95,30.33 L308.80,30.32 L309.65,30.31 L310.50,30.30 L311.36,30.29 L312.21,30.28 L313.07,30.27 L313.92,30.27 L314.78,30.26 L315.64,30.25 L316.50,30.24 L317.35,30.24 L318.21,30.23 L319.07,30.23 L319.93,30.22 L320.79,30.22 L321.65,30.21 L322.51,30.21 L323.37,30.20 L324.23,30.20 L325.09,30.19 L325.95,30.19 L326.81,30.19 L327.68,30.19 L328.54,30.18 L329.40,30.18 L330.26,30.18 L331.13,30.18 L331.99,30.17 L332.85,30.17 L333.72,30.17 L334.58,30.17 L335.45,30.17 L336.31,30.17 L337.17,30.17 L338.04,30.17 L338.90,30.17 L339.77,30.17 L340.63,30.17 L341.50,30.17 L342.36,30.17 L343.23,30.17 L344.09,30.17 L344.96,30.17 L345.82,30.18 L346.69,30.18 L347.55,30.18 L348.42,30.18 L349.29,30.18 L350.15,30.18 L351.02,30.18 L351.89,30.19 L352.75,30.19 L353.62,30.19 L354.49,30.19 L355.35,30.19 L356.22,30.19 L357.09,30.20 L357.96,30.20 L358.82,30.20 L359.69,30.20 L360.56,30.20 L361.43,30.21 L362.30,30.21 L363.16,30.21 L364.03,30.21 L364.90,30.21 L365.77,30.22 L366.64,30.22 L367.51,30.22 L368.38,30.22 L369.25,30.22 L370.12,30.23 L370.99,30.23 L371.86,30.23 L372.73,30.23 L373.60,30.23 L374.47,30.24 L375.34,30.24 L376.21,30.24 L377.08,30.24 L377.95,30.24" stroke="#ff00ff" stroke-width="1.9" stroke-dasharray="2.8 1.7 1.6 1.7"/>
<path d="M44.40,101.50 L45.01,101.28 L45.62,101.05 L46.24,100.83 L46.85,100.61 L47.46,100.38 L48.07,100.16 L48.69,99.93 L49.30,99.71 L49.91,99.49 L50.52,99.26 L51.13,99.04 L51.75,98.81 L52.36,98.59 L52.97,98.36 L53.58,98.14 L54.19,97.91 L54.80,97.69 L55.42,97.46 L56.03,97.24 L56.64,97.01 L57.25,96.79 L57.86,96.56 L58.47,96.33 L59.08,96.11 L59.70,95.88 L60.31,95.65 L60.92,95.43 L61.53,95.20 L62.14,94.97 L62.75,94.75 L63.36,94.52 L63.97,94.29 L64.58,94.07 L65.19,93.84 L65.81,93.61 L66.42,93.38 L67.03,93.16 L67.64,92.93 L68.25,92.70 L68.86,92.47 L69.47,92.25 L70.08,92.02 L70.69,91.79 L71.30,91.56 L71.91,91.33 L72.52,91.10 L73.13,90.87 L73.74,90.65 L74.35,90.42 L74.96,90.19 L75.57,89.96 L76.18,89.73 L76.79,89.50 L77.40,89.27 L78.01,89.04 L78.62,88.81 L79.23,88.58 L79.84,88.35 L80.45,88.12 L81.06,87.89 L81.67,87.66 L82.28,87.43 L82.89,87.20 L83.50,86.97 L84.11,86.74 L84.72,86.51 L85.33,86.28 L85.94,86.05 L86.55,85.82 L87.16,85.59 L87.77,85.36 L88.38,85.13 L88.99,84.89 L89.60,84.66 L90.21,84.43 L90.81,84.20 L91.42,83.97 L92.03,83.74 L92.64,83.51 L93.25,83.27 L93.86,83.04 L94.47,82.81 L95.08,82.58 L95.69,82.35 L96.30,82.11 L96.91,81.88 L97.51,81.65 L98.12,81.42 L98.73,81.18 L99.34,80.95 L99.95,80.72 L100.56,80.49 L101.17,80.25 L101.77,80.02 L102.38,79.78 L102.99,79.54 L103.60,79.30 L104.20,79.06 L104.81,78.82 L105.41,78.58 L106.02,78.34 L106.63,78.10 L107.23,77.86 L107.84,77.61 L108.44,77.37 L109.05,77.13 L109.65,76.88 L110.26,76.64 L110.86,76.39 L111.47,76.15 L112.07,75.91 L112.68,75.66 L113.28,75.42 L113.89,75.18 L114.49,74.94 L115.10,74.70 L115.70,74.46 L116.31,74.22 L116.92,73.98 L117.52,73.74 L118.13,73.50 L118.74,73.27 L119.35,73.03 L119.95,72.80 L120.56,72.57 L121.17,72.34 L121.78,72.11 L122.39,71.88 L123.00,71.65 L123.61,71.43 L124.23,71.21 L124.84,70.99 L125.45,70.77 L126.07,70.55 L126.68,70.34 L127.30,70.12 L127.91,69.91 L128.53,69.70 L129.15,69.49 L129.77,69.28 L130.39,69.08 L131.01,68.88 L131.63,68.68 L132.25,68.49 L132.87,68.30 L133.50,68.12 L134.12,67.94 L134.76,67.77 L135.39,67.62 L136.03,67.47 L136.67,67.33 L137.31,67.19 L137.95,67.03 L138.58,66.87 L139.20,66.69 L139.81,66.50 L140.42,66.27 L141.03,66.02 L141.64,65.75 L142.24,65.46 L142.81,65.14 L143.35,64.80 L143.86,64.44 L144.36,64.04 L144.85,63.60 L145.33,63.14 L145.79,62.64 L146.22,62.14 L146.63,61.62 L147.01,61.09 L147.35,60.55 L147.64,59.97 L147.89,59.36 L148.15,58.74 L148.44,58.16 L148.78,57.63 L149.17,57.08 L149.59,56.53 L150.04,56.00 L150.52,55.53 L151.02,55.13 L151.55,54.82 L152.10,54.60 L152.71,54.41 L153.35,54.24 L154.02,54.10 L154.68,53.99 L155.33,53.90 L155.98,53.83 L156.63,53.77 L157.28,53.72 L157.93,53.68 L158.58,53.64 L159.23,53.59 L159.88,53.54 L160.53,53.49 L161.18,53.43 L161.83,53.36 L162.48,53.29 L163.13,53.22 L163.78,53.15 L164.42,53.06 L165.07,52.98 L165.71,52.88 L166.35,52.78 L167.00,52.66 L167.64,52.54 L168.28,52.42 L168.92,52.28 L169.55,52.14 L170.18,51.99 L170.81,51.83 L171.44,51.66 L172.07,51.48 L172.70,51.29 L173.32,51.11 L173.95,50.93 L174.57,50.74 L175.20,50.55 L175.82,50.36 L176.44,50.16 L177.06,49.96 L177.68,49.76 L178.30,49.57 L178.93,49.37 L179.55,49.17 L180.17,48.97 L180.79,48.77 L181.41,48.57 L182.03,48.37 L182.65,48.17 L183.27,47.97 L183.89,47.77 L184.51,47.56 L185.12,47.36 L185.74,47.15 L186.36,46.94 L186.98,46.73 L187.59,46.52 L188.21,46.31 L188.83,46.10 L189.44,45.88 L190.06,45.67 L190.67,45.45 L191.29,45.23 L191.90,45.02 L192.52,44.80 L193.13,44.59 L193.75,44.37 L194.37,44.16 L194.98,43.95 L195.60,43.73 L196.22,43.53 L196.83,43.32 L197.45,43.11 L198.07,42.91 L198.69,42.71 L199.31,42.51 L199.93,42.32 L200.56,42.13 L201.18,41.94 L201.80,41.75 L202.43,41.56 L203.05,41.37 L203.68,41.19 L204.30,41.00 L204.93,40.82 L205.55,40.64 L206.18,40.46 L206.81,40.28 L207.44,40.11 L208.07,39.93 L208.69,39.76 L209.32,39.59 L209.95,39.42 L210.58,39.26 L211.22,39.10 L211.85,38.94 L212.48,38.78 L213.11,38.63 L213.74,38.47 L214.38,38.32 L215.01,38.17 L215.64,38.02 L216.28,37.87 L216.91,37.72 L217.55,37.58 L218.18,37.43 L218.82,37.29 L219.46,37.15 L220.09,37.01 L220.73,36.87 L221.37,36.74 L222.01,36.61 L222.65,36.48 L223.29,36.35 L223.93,36.22 L224.57,36.09 L225.21,35.97 L225.21,35.97 L225.89,35.84 L226.58,35.72 L227.29,35.59 L228.01,35.46 L228.74,35.33 L229.47,35.20 L230.22,35.07 L230.96,34.94 L231.71,34.82 L232.45,34.70 L233.19,34.58 L233.93,34.47 L234.65,34.36 L235.37,34.25 L236.08,34.15 L236.77,34.05 L237.44,33.96 L238.08,33.88 L238.72,33.80 L239.35,33.72 L239.99,33.64 L240.65,33.56 L241.34,33.47 L242.05,33.39 L242.77,33.30 L243.50,33.21 L244.25,33.12 L245.00,33.03 L245.77,32.95 L246.54,32.86 L247.32,32.77 L248.11,32.68 L248.91,32.60 L249.71,32.52 L250.51,32.43 L251.32,32.35 L252.13,32.27 L252.95,32.19 L253.76,32.11 L254.58,32.04 L255.40,31.96 L256.22,31.89 L257.03,31.82 L257.84,31.75 L258.66,31.69 L259.47,31.62 L260.28,31.56 L261.10,31.50 L261.92,31.44 L262.75,31.38 L263.58,31.32 L264.41,31.26 L265.24,31.21 L266.08,31.15 L266.91,31.10 L267.75,31.04 L268.59,30.99 L269.44,30.94 L270.28,30.89 L271.12,30.85 L271.97,30.80 L272.82,30.76 L273.67,30.71 L274.52,30.67 L275.37,30.63 L276.23,30.59 L277.08,30.55 L277.94,30.51 L278.80,30.47 L279.67,30.44 L280.53,30.40 L281.40,30.37 L282.27,30.33 L283.14,30.30 L284.01,30.27 L284.89,30.23 L285.77,30.20 L286.65,30.17 L287.54,30.14 L288.43,30.11 L289.31,30.09 L290.20,30.06 L291.10,30.03 L291.99,30.01 L292.88,29.98 L293.77,29.96 L294.67,29.94 L295.56,29.92 L296.46,29.89 L297.35,29.87 L298.25,29.85 L299.15,29.83 L300.05,29.82 L300.95,29.80 L301.85,29.78 L302.75,29.76 L303.65,29.75 L304.56,29.73 L305.46,29.72 L306.36,29.70 L307.27,29.69 L308.17,29.68 L309.08,29.66 L309.98,29.65 L310.89,29.64 L311.80,29.63 L312.71,29.62 L313.62,29.61 L314.53,29.60 L315.44,29.59 L316.35,29.58 L317.26,29.57 L318.17,29.57 L319.08,29.56 L319.99,29.55 L320.90,29.54 L321.81,29.54 L322.72,29.53 L323.63,29.53 L324.55,29.52 L325.46,29.52 L326.37,29.51 L327.28,29.51 L328.20,29.50 L329.11,29.50 L330.02,29.50 L330.93,29.49 L331.85,29.49 L332.76,29.49 L333.67,29.49 L334.59,29.48 L335.50,29.48 L336.41,29.48 L337.33,29.48 L338.24,29.48 L339.15,29.48 L340.07,29.48 L340.98,29.48 L341.89,29.48 L342.81,29.48 L343.72,29.48 L344.63,29.48 L345.55,29.48 L346.46,29.48 L347.37,29.48 L348.29,29.48 L349.20,29.48 L350.12,29.48 L351.03,29.49 L351.95,29.49 L352.86,29.49 L353.78,29.49 L354.69,29.49 L355.61,29.49 L356.52,29.49 L357.44,29.49 L358.35,29.50 L359.27,29.50 L360.18,29.50 L361.10,29.50 L362.02,29.50 L362.93,29.50 L363.85,29.50 L364.77,29.51 L365.68,29.51 L366.60,29.51 L367.52,29.51 L368.43,29.51 L369.35,29.51 L370.27,29.51 L371.19,29.52 L372.10,29.52 L373.02,29.52 L373.94,29.52 L374.86,29.52 L375.78,29.52 L376.70,29.52 L377.62,29.53 L378.53,29.53" stroke="#000" stroke-width="1.4" stroke-dasharray="1.6 2.0"/>
</g>
<rect x="37.5" y="20.5" width="347.3" height="214.5" fill="none" stroke="#acacac" stroke-width="1"/>
<path d="M44.40,235.0 v-2.4 M44.40,20.5 v2.4 M65.63,235.0 v-1.3 M65.63,20.5 v1.3 M86.87,235.0 v-1.3 M86.87,20.5 v1.3 M108.11,235.0 v-1.3 M108.11,20.5 v1.3 M129.34,235.0 v-1.3 M129.34,20.5 v1.3 M150.57,235.0 v-2.4 M150.57,20.5 v2.4 M171.81,235.0 v-1.3 M171.81,20.5 v1.3 M193.05,235.0 v-1.3 M193.05,20.5 v1.3 M214.28,235.0 v-1.3 M214.28,20.5 v1.3 M235.52,235.0 v-1.3 M235.52,20.5 v1.3 M256.75,235.0 v-2.4 M256.75,20.5 v2.4 M277.99,235.0 v-1.3 M277.99,20.5 v1.3 M299.22,235.0 v-1.3 M299.22,20.5 v1.3 M320.45,235.0 v-1.3 M320.45,20.5 v1.3 M341.69,235.0 v-1.3 M341.69,20.5 v1.3 M362.92,235.0 v-2.4 M362.92,20.5 v2.4 M37.5,225.00 h2.8 M384.8,225.00 h-2.8 M37.5,215.32 h1.5 M384.8,215.32 h-1.5 M37.5,205.65 h1.5 M384.8,205.65 h-1.5 M37.5,195.97 h1.5 M384.8,195.97 h-1.5 M37.5,186.30 h2.8 M384.8,186.30 h-2.8 M37.5,176.62 h1.5 M384.8,176.62 h-1.5 M37.5,166.95 h1.5 M384.8,166.95 h-1.5 M37.5,157.27 h1.5 M384.8,157.27 h-1.5 M37.5,147.60 h2.8 M384.8,147.60 h-2.8 M37.5,137.93 h1.5 M384.8,137.93 h-1.5 M37.5,128.25 h1.5 M384.8,128.25 h-1.5 M37.5,118.57 h1.5 M384.8,118.57 h-1.5 M37.5,108.90 h2.8 M384.8,108.90 h-2.8 M37.5,99.22 h1.5 M384.8,99.22 h-1.5 M37.5,89.55 h1.5 M384.8,89.55 h-1.5 M37.5,79.88 h1.5 M384.8,79.88 h-1.5 M37.5,70.20 h2.8 M384.8,70.20 h-2.8 M37.5,60.52 h1.5 M384.8,60.52 h-1.5 M37.5,50.85 h1.5 M384.8,50.85 h-1.5 M37.5,41.17 h1.5 M384.8,41.17 h-1.5 M37.5,31.50 h2.8 M384.8,31.50 h-2.8" stroke="#a0a0a0" stroke-width="0.8" fill="none"/>
<rect x="167.6" y="79.7" width="208.00000000000003" height="128.7" fill="#fff" stroke="#acacac" stroke-width="1"/>
<path d="M171.90,79.7 v1.8 M184.62,79.7 v1.8 M197.34,79.7 v1.8 M210.06,79.7 v1.8 M222.78,79.7 v1.8 M235.50,79.7 v1.8 M248.22,79.7 v1.8 M260.94,79.7 v1.8 M273.66,79.7 v1.8 M286.38,79.7 v1.8 M299.10,79.7 v1.8 M311.82,79.7 v1.8 M324.54,79.7 v1.8 M337.26,79.7 v1.8 M349.98,79.7 v1.8 M362.70,79.7 v1.8 M171.90,208.4 v-2.6 M271.80,208.4 v-2.6 M371.71,208.4 v-2.6 M375.6,201.80 h-2.6 M375.6,198.48 h-1.7 M375.6,195.17 h-1.7 M375.6,191.85 h-1.7 M375.6,188.53 h-1.7 M375.6,185.22 h-2.6 M375.6,181.90 h-1.7 M375.6,178.58 h-1.7 M375.6,175.26 h-1.7 M375.6,171.95 h-1.7 M375.6,168.63 h-2.6 M375.6,165.31 h-1.7 M375.6,162.00 h-1.7 M375.6,158.68 h-1.7 M375.6,155.36 h-1.7 M375.6,152.05 h-2.6 M375.6,148.73 h-1.7 M375.6,145.41 h-1.7 M375.6,142.09 h-1.7 M375.6,138.78 h-1.7 M375.6,135.46 h-2.6 M375.6,132.14 h-1.7 M375.6,128.83 h-1.7 M375.6,125.51 h-1.7 M375.6,122.19 h-1.7 M375.6,118.88 h-2.6 M375.6,115.56 h-1.7 M375.6,112.24 h-1.7 M375.6,108.92 h-1.7 M375.6,105.61 h-1.7 M375.6,102.29 h-2.6 M375.6,98.97 h-1.7 M375.6,95.66 h-1.7 M375.6,92.34 h-1.7 M375.6,89.02 h-1.7 M375.6,85.70 h-2.6 M375.6,82.39 h-1.7 M167.6,201.80 h2.6 M167.6,152.05 h2.6 M167.6,102.29 h2.6" stroke="#a0a0a0" stroke-width="0.8" fill="none"/>
<g fill="none" stroke-linejoin="round">
<path d="M171.90,201.80 L172.19,201.19 L172.48,200.58 L172.77,199.97 L173.06,199.36 L173.35,198.75 L173.64,198.14 L173.93,197.53 L174.22,196.92 L174.51,196.31 L174.80,195.70 L175.09,195.09 L175.38,194.48 L175.67,193.87 L175.96,193.26 L176.25,192.65 L176.54,192.04 L176.83,191.43 L177.12,190.82 L177.41,190.21 L177.70,189.60 L177.99,188.99 L178.28,188.38 L178.57,187.77 L178.86,187.16 L179.15,186.54 L179.44,185.93 L179.73,185.32 L180.01,184.71 L180.30,184.10 L180.59,183.49 L180.88,182.88 L181.16,182.27 L181.45,181.66 L181.74,181.04 L182.02,180.43 L182.31,179.82 L182.60,179.21 L182.88,178.60 L183.17,177.98 L183.46,177.37 L183.75,176.76 L184.03,176.15 L184.32,175.54 L184.61,174.93 L184.90,174.32 L185.19,173.71 L185.49,173.10 L185.78,172.49 L186.08,171.89 L186.37,171.28 L186.67,170.67 L186.97,170.07 L187.27,169.46 L187.57,168.86 L187.87,168.25 L188.17,167.65 L188.47,167.04 L188.78,166.44 L189.08,165.83 L189.38,165.23 L189.69,164.62 L189.99,164.02 L190.30,163.42 L190.60,162.82 L190.91,162.21 L191.22,161.61 L191.54,161.01 L191.85,160.42 L192.17,159.82 L192.49,159.22 L192.81,158.63 L193.13,158.04 L193.46,157.45 L193.79,156.86 L194.12,156.27 L194.45,155.68 L194.79,155.10 L195.14,154.52 L195.49,153.95 L195.84,153.37 L196.20,152.80 L196.57,152.24 L196.94,151.67 L197.31,151.10 L197.68,150.54 L198.05,149.98 L198.43,149.41 L198.80,148.85 L199.18,148.28 L199.55,147.72 L199.92,147.15 L200.29,146.59 L200.65,146.02 L201.01,145.45 L201.37,144.87 L201.72,144.30 L202.07,143.72 L202.41,143.13 L202.74,142.54 L203.07,141.95 L203.40,141.36 L203.73,140.77 L204.06,140.19 L204.40,139.60 L204.74,139.02 L205.08,138.44 L205.43,137.85 L205.77,137.27 L206.12,136.69 L206.47,136.11 L206.82,135.53 L207.17,134.96 L207.53,134.38 L207.90,133.82 L208.26,133.25 L208.64,132.69 L209.01,132.13 L209.40,131.58 L209.78,131.02 L210.17,130.47 L210.57,129.92 L210.97,129.37 L211.37,128.82 L211.78,128.28 L212.19,127.74 L212.61,127.20 L213.03,126.68 L213.46,126.15 L213.89,125.64 L214.33,125.13 L214.77,124.63 L215.23,124.13 L215.68,123.64 L216.15,123.15 L216.62,122.66 L217.10,122.17 L217.58,121.69 L218.07,121.22 L218.56,120.75 L219.07,120.29 L219.57,119.84 L220.08,119.39 L220.60,118.95 L221.12,118.53 L221.65,118.12 L222.18,117.71 L222.72,117.32 L223.27,116.93 L223.82,116.55 L224.39,116.17 L224.96,115.80 L225.54,115.44 L226.12,115.08 L226.71,114.74 L227.30,114.41 L227.90,114.09 L228.50,113.78 L229.11,113.48 L229.71,113.20 L230.32,112.93 L230.94,112.65 L231.56,112.38 L232.19,112.11 L232.83,111.85 L233.46,111.61 L234.10,111.38 L234.75,111.16 L235.40,110.97 L236.05,110.79 L236.70,110.64 L237.35,110.51 L238.01,110.38 L238.67,110.25 L239.34,110.13 L240.01,110.01 L240.68,109.90 L241.35,109.81 L242.03,109.73 L242.70,109.67 L243.38,109.62 L244.05,109.60 L244.73,109.60 L245.41,109.62 L246.10,109.64 L246.78,109.67 L247.47,109.72 L248.14,109.77 L248.81,109.83 L249.45,109.89 L250.08,110.02 L250.70,110.26 L251.31,110.58 L251.91,110.94 L252.50,111.33 L253.07,111.72 L253.63,112.08 L254.18,112.47 L254.72,112.88 L255.26,113.31 L255.78,113.75 L256.28,114.20 L256.77,114.67 L257.23,115.14 L257.68,115.64 L258.11,116.15 L258.54,116.68 L258.95,117.22 L259.36,117.77 L259.77,118.31 L260.18,118.85 L260.60,119.38 L261.01,119.92 L261.41,120.46 L261.81,121.00 L262.21,121.55 L262.61,122.09 L263.01,122.64 L263.41,123.18 L263.82,123.72 L264.23,124.26 L264.64,124.80 L265.06,125.32 L265.48,125.85 L265.90,126.38 L266.32,126.91 L266.74,127.44 L267.17,127.97 L267.60,128.49 L268.02,129.02 L268.46,129.54 L268.89,130.06 L269.33,130.57 L269.77,131.09 L270.21,131.60 L270.65,132.10 L271.10,132.61 L271.56,133.11 L272.01,133.60 L272.47,134.09 L272.94,134.58 L273.41,135.07 L273.88,135.55 L274.35,136.04 L274.83,136.52 L275.31,137.00 L275.80,137.47 L276.29,137.94 L276.78,138.40 L277.28,138.86 L277.78,139.32 L278.28,139.76 L278.79,140.20 L279.30,140.64 L279.82,141.06 L280.35,141.48 L280.89,141.88 L281.44,142.28 L281.99,142.67 L282.55,143.06 L283.10,143.44 L283.66,143.83 L284.21,144.22 L284.76,144.62 L285.30,145.03 L285.84,145.44 L286.37,145.85 L286.90,146.28 L287.43,146.70 L287.96,147.12 L288.48,147.55 L289.01,147.97 L289.54,148.39 L290.07,148.81 L290.61,149.22 L291.15,149.62 L291.70,150.01 L292.25,150.40 L292.81,150.77 L293.37,151.14 L293.94,151.51 L294.51,151.87 L295.08,152.23 L295.66,152.59 L296.24,152.93 L296.83,153.28 L297.41,153.61 L298.00,153.94 L298.60,154.27 L299.19,154.59 L299.79,154.90 L300.39,155.20 L301.00,155.50 L301.60,155.79 L302.22,156.07 L302.83,156.36 L303.45,156.63 L304.07,156.90 L304.69,157.17 L305.32,157.43 L305.94,157.69 L306.57,157.95 L307.19,158.20 L307.82,158.45 L308.45,158.69 L309.08,158.94 L309.71,159.18 L310.35,159.41 L310.98,159.65 L311.62,159.87 L312.26,160.09 L312.90,160.31 L313.54,160.51 L314.19,160.71 L314.84,160.90 L315.48,161.08 L316.14,161.25 L316.79,161.42 L317.45,161.59 L318.10,161.75 L318.76,161.90 L319.42,162.06 L320.08,162.20 L320.74,162.35 L321.40,162.49 L322.06,162.63 L322.72,162.77 L323.38,162.91 L324.05,163.05 L324.71,163.18 L325.37,163.31 L326.04,163.43 L326.70,163.56 L327.37,163.68 L328.03,163.79 L328.70,163.90 L329.36,164.01 L330.03,164.11 L330.70,164.21 L331.37,164.31 L332.04,164.40 L332.71,164.49 L333.38,164.58 L334.05,164.66 L334.72,164.75 L335.39,164.83 L336.06,164.92 L336.73,165.00 L337.40,165.09 L338.07,165.17 L338.74,165.26 L339.41,165.34 L340.08,165.42 L340.75,165.50 L341.42,165.58 L342.09,165.66 L342.76,165.74 L343.43,165.82 L344.11,165.90 L344.78,165.97 L345.45,166.05 L346.12,166.13 L346.79,166.20 L347.46,166.28 L348.13,166.36 L348.81,166.43 L349.48,166.51 L350.15,166.59 L350.82,166.66 L351.49,166.74 L352.16,166.81 L352.84,166.88 L353.51,166.96 L354.18,167.02 L354.85,167.09 L355.52,167.16 L356.20,167.22 L356.87,167.28 L357.54,167.34 L358.21,167.40 L358.89,167.45 L359.56,167.50 L360.23,167.55 L360.91,167.60 L361.58,167.65 L362.25,167.69 L362.93,167.74 L363.60,167.78 L364.28,167.83 L364.95,167.87 L365.62,167.91 L366.30,167.95 L366.97,167.98 L367.65,168.02 L368.32,168.05 L369.00,168.09 L369.67,168.12 L370.35,168.15 L371.02,168.17 L371.70,168.20" stroke="#1f7ff0" stroke-width="2.4" stroke-linecap="round"/>
<path d="M171.90,201.80 L172.19,201.19 L172.48,200.58 L172.77,199.97 L173.06,199.36 L173.35,198.75 L173.64,198.14 L173.93,197.53 L174.22,196.92 L174.51,196.31 L174.80,195.70 L175.09,195.09 L175.38,194.48 L175.67,193.87 L175.96,193.26 L176.25,192.65 L176.54,192.04 L176.83,191.43 L177.12,190.82 L177.41,190.21 L177.70,189.60 L177.99,188.99 L178.28,188.38 L178.57,187.77 L178.86,187.16 L179.15,186.54 L179.44,185.93 L179.73,185.32 L180.01,184.71 L180.30,184.10 L180.59,183.49 L180.88,182.88 L181.16,182.27 L181.45,181.66 L181.74,181.04 L182.02,180.43 L182.31,179.82 L182.60,179.21 L182.88,178.60 L183.17,177.98 L183.46,177.37 L183.75,176.76 L184.03,176.15 L184.32,175.54 L184.61,174.93 L184.90,174.32 L185.19,173.71 L185.49,173.10 L185.78,172.49 L186.08,171.89 L186.37,171.28 L186.67,170.67 L186.97,170.07 L187.27,169.46 L187.57,168.86 L187.87,168.25 L188.17,167.65 L188.47,167.04 L188.78,166.44 L189.08,165.83 L189.38,165.23 L189.69,164.62 L189.99,164.02 L190.30,163.42 L190.60,162.82 L190.91,162.21 L191.22,161.61 L191.54,161.01 L191.85,160.42 L192.17,159.82 L192.49,159.22 L192.81,158.63 L193.13,158.04 L193.46,157.45 L193.79,156.86 L194.12,156.27 L194.45,155.68 L194.79,155.10 L195.14,154.52 L195.49,153.95 L195.84,153.37 L196.20,152.80 L196.57,152.24 L196.94,151.67 L197.31,151.10 L197.68,150.54 L198.05,149.98 L198.43,149.41 L198.80,148.85 L199.18,148.28 L199.55,147.72 L199.92,147.15 L200.29,146.59 L200.65,146.02 L201.01,145.45 L201.37,144.87 L201.72,144.30 L202.07,143.72 L202.41,143.13 L202.74,142.54 L203.07,141.95 L203.40,141.36 L203.73,140.77 L204.06,140.19 L204.40,139.60 L204.74,139.02 L205.08,138.44 L205.43,137.85 L205.77,137.27 L206.12,136.69 L206.47,136.11 L206.82,135.53 L207.17,134.96 L207.53,134.38 L207.90,133.82 L208.26,133.25 L208.64,132.69 L209.01,132.13 L209.40,131.58 L209.78,131.02 L210.17,130.47 L210.57,129.92 L210.97,129.37 L211.37,128.82 L211.78,128.28 L212.19,127.74 L212.61,127.20 L213.03,126.68 L213.46,126.15 L213.89,125.64 L214.33,125.13 L214.77,124.63 L215.23,124.13 L215.68,123.64 L216.15,123.15 L216.62,122.66 L217.10,122.17 L217.58,121.69 L218.07,121.22 L218.56,120.75 L219.07,120.29 L219.57,119.84 L220.08,119.39 L220.60,118.95 L221.12,118.53 L221.65,118.12 L222.18,117.71 L222.72,117.32 L223.27,116.93 L223.82,116.55 L224.39,116.17 L224.96,115.80 L225.54,115.44 L226.12,115.08 L226.71,114.74 L227.30,114.41 L227.90,114.09 L228.50,113.78 L229.11,113.48 L229.71,113.20 L230.32,112.93 L230.94,112.65 L231.56,112.38 L232.19,112.11 L232.83,111.85 L233.46,111.61 L234.10,111.38 L234.75,111.16 L235.40,110.97 L236.05,110.79 L236.70,110.64 L237.35,110.51 L238.01,110.38 L238.67,110.25 L239.34,110.13 L240.01,110.01 L240.68,109.90 L241.35,109.81 L242.03,109.73 L242.70,109.67 L243.38,109.62 L244.05,109.60 L244.73,109.60 L245.41,109.62 L246.10,109.64 L246.78,109.67 L247.47,109.72 L248.14,109.77 L248.81,109.83 L249.45,109.89 L250.08,110.02 L250.70,110.26 L251.31,110.58 L251.91,110.94 L252.50,111.33 L253.07,111.72 L253.63,112.08 L254.18,112.47 L254.72,112.88 L255.26,113.31 L255.78,113.75 L256.28,114.20 L256.77,114.67 L257.23,115.14 L257.68,115.64 L258.11,116.15 L258.54,116.68 L258.95,117.22 L259.36,117.77 L259.77,118.31 L260.18,118.85 L260.60,119.38 L261.01,119.92 L261.41,120.46 L261.81,121.00 L262.21,121.55 L262.61,122.09 L263.01,122.64 L263.41,123.18 L263.82,123.72 L264.23,124.26 L264.64,124.80 L265.06,125.32 L265.48,125.85 L265.90,126.38 L266.32,126.91 L266.74,127.44 L267.17,127.97 L267.60,128.49 L268.02,129.02 L268.46,129.54 L268.89,130.06 L269.33,130.57 L269.77,131.09 L270.21,131.60 L270.65,132.10 L271.10,132.61 L271.56,133.11 L272.01,133.60 L272.47,134.09 L272.94,134.58 L273.41,135.07 L273.88,135.55 L274.35,136.04 L274.83,136.52 L275.31,137.00 L275.80,137.47 L276.29,137.94 L276.78,138.40 L277.28,138.86 L277.78,139.32 L278.28,139.76 L278.79,140.20 L279.30,140.64 L279.82,141.06 L280.35,141.48 L280.89,141.88 L281.44,142.28 L281.99,142.67 L282.55,143.06 L283.10,143.44 L283.66,143.83 L284.21,144.22 L284.76,144.62 L285.30,145.03 L285.84,145.44 L286.37,145.85 L286.90,146.28 L287.43,146.70 L287.96,147.12 L288.48,147.55 L289.01,147.97 L289.54,148.39 L290.07,148.81 L290.61,149.22 L291.15,149.62 L291.70,150.01 L292.25,150.40 L292.81,150.77 L293.37,151.14 L293.94,151.51 L294.51,151.87 L295.08,152.23 L295.66,152.59 L296.24,152.93 L296.83,153.28 L297.41,153.61 L298.00,153.94 L298.60,154.27 L299.19,154.59 L299.79,154.90 L300.39,155.20 L301.00,155.50 L301.60,155.79 L302.22,156.07 L302.83,156.36 L303.45,156.63 L304.07,156.90 L304.69,157.17 L305.32,157.43 L305.94,157.69 L306.57,157.95 L307.19,158.20 L307.82,158.45 L308.45,158.69 L309.08,158.94 L309.71,159.18 L310.35,159.41 L310.98,159.65 L311.62,159.87 L312.26,160.09 L312.90,160.31 L313.54,160.51 L314.19,160.71 L314.84,160.90 L315.48,161.08 L316.14,161.25 L316.79,161.42 L317.45,161.59 L318.10,161.75 L318.76,161.90 L319.42,162.06 L320.08,162.20 L320.74,162.35 L321.40,162.49 L322.06,162.63 L322.72,162.77 L323.38,162.91 L324.05,163.05 L324.71,163.18 L325.37,163.31 L326.04,163.43 L326.70,163.56 L327.37,163.68 L328.03,163.79 L328.70,163.90 L329.36,164.01 L330.03,164.11 L330.70,164.21 L331.37,164.31 L332.04,164.40 L332.71,164.49 L333.38,164.58 L334.05,164.66 L334.72,164.75 L335.39,164.83 L336.06,164.92 L336.73,165.00 L337.40,165.09 L338.07,165.17 L338.74,165.26 L339.41,165.34 L340.08,165.42 L340.75,165.50 L341.42,165.58 L342.09,165.66 L342.76,165.74 L343.43,165.82 L344.11,165.90 L344.78,165.97 L345.45,166.05 L346.12,166.13 L346.79,166.20 L347.46,166.28 L348.13,166.36 L348.81,166.43 L349.48,166.51 L350.15,166.59 L350.82,166.66 L351.49,166.74 L352.16,166.81 L352.84,166.88 L353.51,166.96 L354.18,167.02 L354.85,167.09 L355.52,167.16 L356.20,167.22 L356.87,167.28 L357.54,167.34 L358.21,167.40 L358.89,167.45 L359.56,167.50 L360.23,167.55 L360.91,167.60 L361.58,167.65 L362.25,167.69 L362.93,167.74 L363.60,167.78 L364.28,167.83 L364.95,167.87 L365.62,167.91 L366.30,167.95 L366.97,167.98 L367.65,168.02 L368.32,168.05 L369.00,168.09 L369.67,168.12 L370.35,168.15 L371.02,168.17 L371.70,168.20" stroke="#1f7ff0" stroke-width="3.2" stroke-linecap="round" stroke-dasharray="0 2.0"/>
<path d="M254.70,79.50 L254.88,80.01 L255.05,80.53 L255.21,81.05 L255.36,81.57 L255.51,82.09 L255.65,82.61 L255.78,83.14 L255.91,83.67 L256.04,84.19 L256.16,84.72 L256.28,85.25 L256.40,85.79 L256.52,86.32 L256.64,86.85 L256.76,87.38 L256.88,87.91 L257.00,88.44 L257.12,88.97 L257.24,89.50 L257.37,90.03 L257.50,90.56 L257.63,91.08 L257.77,91.61 L257.91,92.13 L258.06,92.65 L258.21,93.17 L258.37,93.68 L258.53,94.20 L258.69,94.72 L258.86,95.23 L259.03,95.75 L259.21,96.26 L259.39,96.78 L259.57,97.29 L259.75,97.80 L259.94,98.31 L260.13,98.82 L260.32,99.33 L260.51,99.84 L260.71,100.35 L260.91,100.86 L261.10,101.36 L261.30,101.87 L261.51,102.37 L261.71,102.87 L261.91,103.38 L262.13,103.87 L262.34,104.37 L262.57,104.86 L262.80,105.36 L263.03,105.85 L263.26,106.34 L263.48,106.84 L263.71,107.33 L263.93,107.83 L264.14,108.33 L264.35,108.83 L264.55,109.34 L264.75,109.84 L264.94,110.35 L265.13,110.86 L265.33,111.37 L265.52,111.88 L265.72,112.39 L265.92,112.89 L266.12,113.40 L266.33,113.90 L266.54,114.39 L266.76,114.89 L266.99,115.38 L267.22,115.86 L267.47,116.34 L267.72,116.82 L267.97,117.30 L268.24,117.77 L268.50,118.25 L268.77,118.72 L269.05,119.19 L269.33,119.65 L269.61,120.12 L269.90,120.58 L270.19,121.05 L270.48,121.51 L270.77,121.97 L271.06,122.43 L271.36,122.89 L271.65,123.34 L271.94,123.80 L272.24,124.26 L272.53,124.71 L272.83,125.17 L273.12,125.62 L273.42,126.07 L273.72,126.52 L274.03,126.97 L274.33,127.42 L274.64,127.87 L274.95,128.32 L275.26,128.77 L275.57,129.21 L275.88,129.66 L276.20,130.10 L276.51,130.54 L276.83,130.98 L277.15,131.42 L277.47,131.86 L277.79,132.30 L278.11,132.74 L278.43,133.18 L278.76,133.61 L279.08,134.05 L279.41,134.48 L279.74,134.91 L280.06,135.35 L280.39,135.78 L280.72,136.22 L281.04,136.66 L281.38,137.09 L281.71,137.52 L282.04,137.96 L282.38,138.39 L282.72,138.81 L283.06,139.23 L283.41,139.65 L283.76,140.06 L284.12,140.46 L284.49,140.86 L284.85,141.25 L285.23,141.63 L285.61,142.01 L286.00,142.38 L286.40,142.75 L286.80,143.12 L287.20,143.48 L287.61,143.84 L288.03,144.19 L288.45,144.54 L288.87,144.89 L289.30,145.23 L289.72,145.57 L290.15,145.91 L290.59,146.24 L291.02,146.57 L291.46,146.90 L291.89,147.22 L292.33,147.55 L292.76,147.86 L293.20,148.18 L293.64,148.49 L294.09,148.81 L294.54,149.11 L294.99,149.42 L295.44,149.72 L295.90,150.02 L296.35,150.32 L296.81,150.61 L297.27,150.90 L297.74,151.18 L298.20,151.47 L298.67,151.74 L299.14,152.02 L299.60,152.29 L300.08,152.55 L300.55,152.82 L301.02,153.08 L301.50,153.33 L301.98,153.58 L302.47,153.83 L302.95,154.08 L303.44,154.32 L303.93,154.56 L304.42,154.80 L304.91,155.04 L305.40,155.27 L305.89,155.50 L306.38,155.73 L306.88,155.95 L307.37,156.18 L307.87,156.40 L308.36,156.62 L308.86,156.84 L309.36,157.06 L309.86,157.28 L310.36,157.49 L310.86,157.70 L311.36,157.91 L311.86,158.11 L312.37,158.31 L312.88,158.51 L313.38,158.70 L313.89,158.89 L314.40,159.07 L314.91,159.24 L315.43,159.41 L315.94,159.58 L316.46,159.75 L316.98,159.91 L317.50,160.07 L318.02,160.23 L318.54,160.38 L319.06,160.53 L319.59,160.68 L320.11,160.82 L320.64,160.97 L321.16,161.11 L321.68,161.24 L322.21,161.38 L322.74,161.51 L323.26,161.65 L323.79,161.78 L324.32,161.91 L324.84,162.04 L325.37,162.16 L325.90,162.28 L326.43,162.40 L326.96,162.52 L327.49,162.64 L328.03,162.75 L328.56,162.86 L329.09,162.96 L329.62,163.06 L330.16,163.16 L330.69,163.25 L331.22,163.35 L331.76,163.44 L332.30,163.53 L332.83,163.61 L333.37,163.70 L333.91,163.78 L334.44,163.86 L334.98,163.95 L335.52,164.03 L336.05,164.11 L336.59,164.18 L337.13,164.26 L337.67,164.34 L338.20,164.42 L338.74,164.49 L339.28,164.56 L339.82,164.64 L340.35,164.71 L340.89,164.78 L341.43,164.85 L341.97,164.92 L342.51,164.99 L343.05,165.06 L343.59,165.13 L344.13,165.19 L344.66,165.26 L345.20,165.32 L345.74,165.39 L346.28,165.46 L346.82,165.52 L347.36,165.59 L347.90,165.66 L348.44,165.72 L348.98,165.79 L349.52,165.86 L350.05,165.92 L350.59,165.99 L351.13,166.05 L351.67,166.12 L352.21,166.18 L352.75,166.24 L353.29,166.30 L353.83,166.36 L354.37,166.42 L354.91,166.48 L355.45,166.54 L355.99,166.59 L356.53,166.64 L357.07,166.70 L357.61,166.74 L358.15,166.79 L358.69,166.84 L359.23,166.88 L359.77,166.92 L360.32,166.96 L360.86,167.00 L361.40,167.04 L361.94,167.08 L362.48,167.11 L363.02,167.15 L363.56,167.19 L364.11,167.22 L364.65,167.26 L365.19,167.29 L365.73,167.32 L366.27,167.35 L366.82,167.38 L367.36,167.41 L367.90,167.44 L368.44,167.47 L368.99,167.49 L369.53,167.52 L370.07,167.54 L370.61,167.56 L371.16,167.58 L371.70,167.60" stroke="#ff5a0a" stroke-width="2.1"/>
<path d="M254.70,79.50 L254.88,80.01 L255.05,80.53 L255.21,81.05 L255.36,81.57 L255.51,82.09 L255.65,82.61 L255.78,83.14 L255.91,83.67 L256.04,84.19 L256.16,84.72 L256.28,85.25 L256.40,85.79 L256.52,86.32 L256.64,86.85 L256.76,87.38 L256.88,87.91 L257.00,88.44 L257.12,88.97 L257.24,89.50 L257.37,90.03 L257.50,90.56 L257.63,91.08 L257.77,91.61 L257.91,92.13 L258.06,92.65 L258.21,93.17 L258.37,93.68 L258.53,94.20 L258.69,94.72 L258.86,95.23 L259.03,95.75 L259.21,96.26 L259.39,96.78 L259.57,97.29 L259.75,97.80 L259.94,98.31 L260.13,98.82 L260.32,99.33 L260.51,99.84 L260.71,100.35 L260.91,100.86 L261.10,101.36 L261.30,101.87 L261.51,102.37 L261.71,102.87 L261.91,103.38 L262.13,103.87 L262.34,104.37 L262.57,104.86 L262.80,105.36 L263.03,105.85 L263.26,106.34 L263.48,106.84 L263.71,107.33 L263.93,107.83 L264.14,108.33 L264.35,108.83 L264.55,109.34 L264.75,109.84 L264.94,110.35 L265.13,110.86 L265.33,111.37 L265.52,111.88 L265.72,112.39 L265.92,112.89 L266.12,113.40 L266.33,113.90 L266.54,114.39 L266.76,114.89 L266.99,115.38 L267.22,115.86 L267.47,116.34 L267.72,116.82 L267.97,117.30 L268.24,117.77 L268.50,118.25 L268.77,118.72 L269.05,119.19 L269.33,119.65 L269.61,120.12 L269.90,120.58 L270.19,121.05 L270.48,121.51 L270.77,121.97 L271.06,122.43 L271.36,122.89 L271.65,123.34 L271.94,123.80 L272.24,124.26 L272.53,124.71 L272.83,125.17 L273.12,125.62 L273.42,126.07 L273.72,126.52 L274.03,126.97 L274.33,127.42 L274.64,127.87 L274.95,128.32 L275.26,128.77 L275.57,129.21 L275.88,129.66 L276.20,130.10 L276.51,130.54 L276.83,130.98 L277.15,131.42 L277.47,131.86 L277.79,132.30 L278.11,132.74 L278.43,133.18 L278.76,133.61 L279.08,134.05 L279.41,134.48 L279.74,134.91 L280.06,135.35 L280.39,135.78 L280.72,136.22 L281.04,136.66 L281.38,137.09 L281.71,137.52 L282.04,137.96 L282.38,138.39 L282.72,138.81 L283.06,139.23 L283.41,139.65 L283.76,140.06 L284.12,140.46 L284.49,140.86 L284.85,141.25 L285.23,141.63 L285.61,142.01 L286.00,142.38 L286.40,142.75 L286.80,143.12 L287.20,143.48 L287.61,143.84 L288.03,144.19 L288.45,144.54 L288.87,144.89 L289.30,145.23 L289.72,145.57 L290.15,145.91 L290.59,146.24 L291.02,146.57 L291.46,146.90 L291.89,147.22 L292.33,147.55 L292.76,147.86 L293.20,148.18 L293.64,148.49 L294.09,148.81 L294.54,149.11 L294.99,149.42 L295.44,149.72 L295.90,150.02 L296.35,150.32 L296.81,150.61 L297.27,150.90 L297.74,151.18 L298.20,151.47 L298.67,151.74 L299.14,152.02 L299.60,152.29 L300.08,152.55 L300.55,152.82 L301.02,153.08 L301.50,153.33 L301.98,153.58 L302.47,153.83 L302.95,154.08 L303.44,154.32 L303.93,154.56 L304.42,154.80 L304.91,155.04 L305.40,155.27 L305.89,155.50 L306.38,155.73 L306.88,155.95 L307.37,156.18 L307.87,156.40 L308.36,156.62 L308.86,156.84 L309.36,157.06 L309.86,157.28 L310.36,157.49 L310.86,157.70 L311.36,157.91 L311.86,158.11 L312.37,158.31 L312.88,158.51 L313.38,158.70 L313.89,158.89 L314.40,159.07 L314.91,159.24 L315.43,159.41 L315.94,159.58 L316.46,159.75 L316.98,159.91 L317.50,160.07 L318.02,160.23 L318.54,160.38 L319.06,160.53 L319.59,160.68 L320.11,160.82 L320.64,160.97 L321.16,161.11 L321.68,161.24 L322.21,161.38 L322.74,161.51 L323.26,161.65 L323.79,161.78 L324.32,161.91 L324.84,162.04 L325.37,162.16 L325.90,162.28 L326.43,162.40 L326.96,162.52 L327.49,162.64 L328.03,162.75 L328.56,162.86 L329.09,162.96 L329.62,163.06 L330.16,163.16 L330.69,163.25 L331.22,163.35 L331.76,163.44 L332.30,163.53 L332.83,163.61 L333.37,163.70 L333.91,163.78 L334.44,163.86 L334.98,163.95 L335.52,164.03 L336.05,164.11 L336.59,164.18 L337.13,164.26 L337.67,164.34 L338.20,164.42 L338.74,164.49 L339.28,164.56 L339.82,164.64 L340.35,164.71 L340.89,164.78 L341.43,164.85 L341.97,164.92 L342.51,164.99 L343.05,165.06 L343.59,165.13 L344.13,165.19 L344.66,165.26 L345.20,165.32 L345.74,165.39 L346.28,165.46 L346.82,165.52 L347.36,165.59 L347.90,165.66 L348.44,165.72 L348.98,165.79 L349.52,165.86 L350.05,165.92 L350.59,165.99 L351.13,166.05 L351.67,166.12 L352.21,166.18 L352.75,166.24 L353.29,166.30 L353.83,166.36 L354.37,166.42 L354.91,166.48 L355.45,166.54 L355.99,166.59 L356.53,166.64 L357.07,166.70 L357.61,166.74 L358.15,166.79 L358.69,166.84 L359.23,166.88 L359.77,166.92 L360.32,166.96 L360.86,167.00 L361.40,167.04 L361.94,167.08 L362.48,167.11 L363.02,167.15 L363.56,167.19 L364.11,167.22 L364.65,167.26 L365.19,167.29 L365.73,167.32 L366.27,167.35 L366.82,167.38 L367.36,167.41 L367.90,167.44 L368.44,167.47 L368.99,167.49 L369.53,167.52 L370.07,167.54 L370.61,167.56 L371.16,167.58 L371.70,167.60" stroke="#ff5a0a" stroke-width="2.9" stroke-linecap="round" stroke-dasharray="0 2.0"/>
<path d="M172.00,201.90 L172.37,201.20 L172.75,200.49 L173.12,199.78 L173.49,199.08 L173.86,198.37 L174.24,197.67 L174.61,196.96 L174.98,196.25 L175.35,195.54 L175.71,194.84 L176.08,194.13 L176.45,193.42 L176.82,192.71 L177.18,192.00 L177.55,191.29 L177.91,190.58 L178.28,189.87 L178.64,189.16 L179.00,188.45 L179.36,187.74 L179.73,187.03 L180.09,186.32 L180.45,185.61 L180.80,184.89 L181.16,184.18 L181.50,183.46 L181.85,182.74 L182.19,182.01 L182.53,181.29 L182.87,180.56 L183.21,179.84 L183.54,179.11 L183.88,178.38 L184.22,177.65 L184.55,176.93 L184.89,176.20 L185.23,175.48 L185.57,174.76 L185.92,174.03 L186.27,173.32 L186.62,172.60 L186.97,171.89 L187.33,171.18 L187.70,170.47 L188.07,169.77 L188.44,169.07 L188.83,168.37 L189.22,167.68 L189.62,167.00 L190.03,166.32 L190.45,165.65 L190.88,164.98 L191.32,164.32 L191.77,163.66 L192.23,163.00 L192.69,162.35 L193.15,161.70 L193.62,161.05 L194.09,160.40 L194.56,159.75 L195.03,159.10 L195.50,158.45 L195.96,157.80 L196.42,157.15 L196.87,156.49 L197.32,155.83 L197.77,155.17 L198.22,154.51 L198.67,153.85 L199.11,153.19 L199.56,152.53 L200.00,151.86 L200.45,151.20 L200.90,150.54 L201.34,149.88 L201.79,149.22 L202.24,148.56 L202.70,147.90 L203.15,147.25 L203.61,146.60 L204.07,145.95 L204.54,145.30 L205.01,144.65 L205.48,144.02 L205.97,143.38 L206.45,142.75 L206.94,142.12 L207.43,141.49 L207.93,140.86 L208.42,140.23 L208.90,139.60 L209.38,138.96 L209.85,138.31 L210.32,137.66 L210.78,137.00 L211.25,136.34 L211.71,135.69 L212.18,135.04 L212.66,134.39 L213.14,133.76 L213.64,133.14 L214.14,132.53 L214.67,131.95 L215.20,131.37 L215.76,130.81 L216.33,130.25 L216.91,129.70 L217.50,129.15 L218.10,128.62 L218.71,128.10 L219.33,127.58 L219.96,127.08 L220.59,126.58 L221.23,126.10 L221.87,125.64 L222.51,125.18 L223.17,124.73 L223.83,124.28 L224.50,123.84 L225.18,123.41 L225.87,123.00 L226.57,122.59 L227.27,122.20 L227.98,121.83 L228.69,121.48 L229.41,121.14 L230.13,120.82 L230.86,120.51 L231.60,120.21 L232.35,119.91 L233.10,119.63 L233.86,119.36 L234.62,119.12 L235.39,118.89 L236.16,118.68 L236.93,118.49 L237.70,118.33 L238.48,118.17 L239.27,118.02 L240.05,117.88 L240.84,117.74 L241.64,117.62 L242.43,117.51 L243.22,117.41 L244.02,117.33 L244.81,117.25 L245.60,117.17 L246.40,117.10 L247.19,117.02 L247.99,116.96 L248.79,116.90 L249.59,116.85 L250.38,116.82 L251.18,116.80 L251.98,116.80 L252.78,116.81 L253.57,116.84 L254.37,116.87 L255.17,116.91 L255.97,116.95 L256.76,116.99 L257.56,117.04 L258.35,117.11 L259.14,117.19 L259.94,117.28 L260.73,117.39 L261.52,117.50 L262.31,117.61 L263.10,117.74 L263.89,117.86 L264.68,117.98 L265.47,118.11 L266.25,118.24 L267.03,118.39 L267.82,118.54 L268.60,118.71 L269.38,118.87 L270.16,119.04 L270.94,119.21 L271.72,119.38 L272.50,119.56 L273.28,119.72 L274.06,119.89 L274.84,120.05 L275.63,120.20 L276.41,120.36 L277.19,120.51 L277.98,120.66 L278.76,120.82 L279.54,120.97 L280.33,121.12 L281.11,121.27 L281.89,121.42 L282.68,121.57 L283.46,121.71 L284.25,121.86 L285.03,122.01 L285.82,122.15 L286.60,122.30 L286.90,122.30 L286.95,122.83 L287.00,123.35 L287.07,123.87 L287.15,124.39 L287.24,124.91 L287.33,125.42 L287.43,125.93 L287.53,126.44 L287.64,126.95 L287.76,127.45 L287.89,127.95 L288.04,128.45 L288.20,128.94 L288.38,129.43 L288.57,129.92 L288.76,130.41 L288.96,130.90 L289.17,131.38 L289.38,131.87 L289.58,132.35 L289.79,132.83 L289.99,133.31 L290.19,133.80 L290.40,134.28 L290.61,134.76 L290.82,135.24 L291.04,135.71 L291.28,136.18 L291.52,136.64 L291.78,137.09 L292.05,137.53 L292.34,137.96 L292.64,138.40 L292.94,138.83 L293.24,139.26 L293.53,139.69 L293.81,140.13 L294.09,140.58 L294.36,141.03 L294.64,141.48 L294.93,141.91 L295.24,142.32 L295.56,142.72 L295.91,143.11 L296.26,143.49 L296.63,143.86 L297.01,144.22 L297.39,144.58 L297.79,144.94 L298.19,145.28 L298.59,145.62 L299.00,145.96 L299.40,146.28 L299.81,146.61 L300.22,146.93 L300.63,147.24 L301.05,147.55 L301.48,147.85 L301.90,148.15 L302.34,148.44 L302.77,148.73 L303.21,149.02 L303.65,149.30 L304.10,149.58 L304.54,149.86 L304.99,150.14 L305.43,150.41 L305.88,150.69 L306.33,150.96 L306.77,151.24 L307.22,151.51 L307.66,151.78 L308.11,152.06 L308.55,152.34 L309.00,152.61 L309.44,152.89 L309.89,153.16 L310.34,153.43 L310.79,153.70 L311.24,153.97 L311.69,154.23 L312.15,154.49 L312.61,154.74 L313.07,154.99 L313.53,155.22 L313.99,155.46 L314.46,155.68 L314.93,155.90 L315.41,156.11 L315.88,156.32 L316.36,156.53 L316.85,156.73 L317.33,156.93 L317.82,157.12 L318.31,157.31 L318.80,157.50 L319.29,157.68 L319.78,157.86 L320.27,158.04 L320.77,158.21 L321.26,158.38 L321.75,158.55 L322.25,158.72 L322.74,158.88 L323.24,159.05 L323.74,159.21 L324.23,159.37 L324.73,159.52 L325.23,159.68 L325.73,159.83 L326.24,159.98 L326.74,160.12 L327.24,160.27 L327.75,160.40 L328.25,160.54 L328.76,160.67 L329.26,160.79 L329.77,160.91 L330.28,161.03 L330.79,161.14 L331.30,161.26 L331.81,161.37 L332.32,161.47 L332.83,161.58 L333.35,161.68 L333.86,161.78 L334.37,161.88 L334.89,161.97 L335.40,162.07 L335.92,162.16 L336.43,162.25 L336.94,162.34 L337.46,162.43 L337.97,162.52 L338.49,162.61 L339.00,162.69 L339.52,162.78 L340.04,162.86 L340.55,162.94 L341.07,163.02 L341.59,163.10 L342.10,163.18 L342.62,163.26 L343.14,163.33 L343.65,163.41 L344.17,163.48 L344.69,163.56 L345.20,163.63 L345.72,163.70 L346.24,163.77 L346.76,163.84 L347.27,163.92 L347.79,163.99 L348.31,164.06 L348.83,164.13 L349.35,164.20 L349.86,164.27 L350.38,164.33 L350.90,164.40 L351.42,164.47 L351.94,164.54 L352.46,164.60 L352.97,164.67 L353.49,164.73 L354.01,164.79 L354.53,164.86 L355.05,164.92 L355.57,164.98 L356.09,165.04 L356.61,165.10 L357.13,165.15 L357.65,165.21 L358.16,165.26 L358.68,165.32 L359.20,165.37 L359.72,165.42 L360.24,165.47 L360.76,165.52 L361.28,165.57 L361.80,165.62 L362.32,165.67 L362.84,165.72 L363.36,165.76 L363.88,165.81 L364.40,165.85 L364.92,165.90 L365.45,165.94 L365.97,165.98 L366.49,166.03 L367.01,166.07 L367.53,166.11 L368.05,166.15 L368.57,166.19 L369.09,166.22 L369.61,166.26 L370.14,166.30 L370.66,166.33 L371.18,166.37 L371.70,166.40" stroke="#ff00ff" stroke-width="1.7" stroke-dasharray="3.7 1.8 1.6 1.8"/>
<path d="M254.55,79.50 L254.62,80.05 L254.69,80.59 L254.77,81.14 L254.85,81.68 L254.94,82.22 L255.02,82.77 L255.11,83.31 L255.20,83.86 L255.29,84.40 L255.38,84.94 L255.48,85.49 L255.57,86.03 L255.67,86.57 L255.77,87.11 L255.87,87.66 L255.98,88.20 L256.08,88.74 L256.19,89.28 L256.30,89.82 L256.41,90.35 L256.53,90.89 L256.64,91.43 L256.76,91.97 L256.88,92.50 L257.00,93.04 L257.13,93.57 L257.26,94.11 L257.39,94.64 L257.52,95.18 L257.66,95.71 L257.80,96.25 L257.95,96.78 L258.10,97.31 L258.25,97.84 L258.40,98.37 L258.56,98.90 L258.72,99.43 L258.88,99.96 L259.05,100.48 L259.22,101.01 L259.40,101.53 L259.57,102.05 L259.76,102.56 L259.94,103.08 L260.13,103.59 L260.34,104.09 L260.56,104.60 L260.78,105.10 L261.01,105.59 L261.25,106.09 L261.50,106.58 L261.75,107.08 L262.00,107.57 L262.25,108.06 L262.50,108.56 L262.74,109.05 L262.99,109.55 L263.22,110.05 L263.45,110.55 L263.67,111.05 L263.89,111.56 L264.09,112.07 L264.30,112.58 L264.50,113.09 L264.69,113.61 L264.89,114.12 L265.08,114.64 L265.28,115.15 L265.48,115.67 L265.67,116.18 L265.88,116.69 L266.08,117.20 L266.29,117.71 L266.51,118.22 L266.74,118.72 L266.96,119.22 L267.20,119.72 L267.43,120.22 L267.67,120.71 L267.91,121.21 L268.15,121.70 L268.40,122.19 L268.65,122.69 L268.90,123.18 L269.16,123.67 L269.41,124.15 L269.67,124.64 L269.93,125.12 L270.20,125.60 L270.46,126.09 L270.73,126.57 L271.00,127.05 L271.27,127.53 L271.54,128.01 L271.81,128.49 L272.09,128.97 L272.37,129.45 L272.66,129.92 L272.95,130.39 L273.24,130.86 L273.54,131.32 L273.84,131.78 L274.14,132.24 L274.45,132.69 L274.77,133.13 L275.09,133.57 L275.42,134.01 L275.76,134.44 L276.10,134.88 L276.45,135.31 L276.81,135.73 L277.17,136.16 L277.53,136.57 L277.90,136.99 L278.27,137.39 L278.65,137.79 L279.04,138.19 L279.42,138.58 L279.81,138.96 L280.21,139.33 L280.61,139.70 L281.03,140.05 L281.45,140.40 L281.88,140.74 L282.32,141.08 L282.76,141.41 L283.21,141.74 L283.65,142.07 L284.10,142.40 L284.54,142.73 L284.99,143.06 L285.43,143.39 L285.86,143.73 L286.29,144.08 L286.72,144.43 L287.13,144.79 L287.53,145.17 L287.92,145.56 L288.30,145.97 L288.68,146.37 L289.06,146.77 L289.45,147.15 L289.87,147.49 L290.29,147.83 L290.72,148.15 L291.16,148.47 L291.61,148.79 L292.06,149.10 L292.52,149.40 L292.98,149.70 L293.45,149.99 L293.92,150.28 L294.40,150.56 L294.88,150.84 L295.36,151.12 L295.85,151.39 L296.33,151.66 L296.82,151.93 L297.31,152.19 L297.80,152.46 L298.29,152.72 L298.78,152.98 L299.27,153.23 L299.76,153.49 L300.24,153.75 L300.73,154.00 L301.22,154.25 L301.71,154.50 L302.20,154.75 L302.69,154.99 L303.19,155.23 L303.69,155.47 L304.19,155.70 L304.69,155.94 L305.19,156.16 L305.69,156.39 L306.19,156.61 L306.70,156.83 L307.20,157.05 L307.71,157.27 L308.22,157.48 L308.72,157.69 L309.23,157.91 L309.74,158.12 L310.25,158.32 L310.77,158.53 L311.28,158.73 L311.79,158.93 L312.31,159.12 L312.83,159.31 L313.35,159.50 L313.87,159.68 L314.39,159.85 L314.91,160.02 L315.43,160.18 L315.96,160.34 L316.48,160.50 L317.01,160.65 L317.54,160.80 L318.07,160.95 L318.61,161.09 L319.14,161.24 L319.67,161.37 L320.21,161.51 L320.74,161.64 L321.28,161.77 L321.81,161.90 L322.35,162.02 L322.88,162.15 L323.42,162.27 L323.96,162.39 L324.50,162.50 L325.04,162.62 L325.57,162.73 L326.11,162.84 L326.65,162.95 L327.20,163.05 L327.74,163.16 L328.28,163.26 L328.82,163.35 L329.36,163.45 L329.90,163.54 L330.45,163.63 L330.99,163.72 L331.53,163.81 L332.08,163.89 L332.62,163.98 L333.16,164.06 L333.71,164.14 L334.25,164.22 L334.80,164.29 L335.35,164.37 L335.89,164.44 L336.44,164.52 L336.98,164.59 L337.53,164.66 L338.07,164.73 L338.62,164.80 L339.16,164.87 L339.71,164.94 L340.26,165.01 L340.80,165.07 L341.35,165.14 L341.90,165.20 L342.44,165.27 L342.99,165.33 L343.54,165.39 L344.08,165.46 L344.63,165.52 L345.18,165.58 L345.73,165.64 L346.27,165.70 L346.82,165.77 L347.37,165.83 L347.91,165.89 L348.46,165.95 L349.01,166.02 L349.55,166.08 L350.10,166.14 L350.65,166.20 L351.20,166.27 L351.74,166.33 L352.29,166.39 L352.84,166.45 L353.38,166.51 L353.93,166.56 L354.48,166.62 L355.03,166.68 L355.58,166.73 L356.12,166.78 L356.67,166.83 L357.22,166.88 L357.77,166.93 L358.32,166.98 L358.86,167.02 L359.41,167.07 L359.96,167.11 L360.51,167.15 L361.06,167.19 L361.61,167.23 L362.16,167.26 L362.70,167.30 L363.25,167.34 L363.80,167.37 L364.35,167.41 L364.90,167.44 L365.45,167.48 L366.00,167.51 L366.55,167.54 L367.10,167.57 L367.65,167.60 L368.20,167.63 L368.75,167.66 L369.30,167.68 L369.85,167.71 L370.40,167.73 L370.95,167.76 L371.50,167.78 L372.05,167.80" stroke="#000" stroke-width="1.7" stroke-dasharray="2.0 2.2"/>
</g>
<text x="21.02" y="228.90" font-size="10.2" textLength="13.35" lengthAdjust="spacingAndGlyphs" font-family="Liberation Sans, sans-serif" fill="#666">0.0</text>
<text x="21.02" y="190.20" font-size="10.2" textLength="13.47" lengthAdjust="spacingAndGlyphs" font-family="Liberation Sans, sans-serif" fill="#666">0.2</text>
<text x="21.03" y="151.50" font-size="10.2" textLength="13.25" lengthAdjust="spacingAndGlyphs" font-family="Liberation Sans, sans-serif" fill="#666">0.4</text>
<text x="21.02" y="112.80" font-size="10.2" textLength="13.40" lengthAdjust="spacingAndGlyphs" font-family="Liberation Sans, sans-serif" fill="#666">0.6</text>
<text x="21.02" y="74.10" font-size="10.2" textLength="13.40" lengthAdjust="spacingAndGlyphs" font-family="Liberation Sans, sans-serif" fill="#666">0.8</text>
<text x="22.13" y="35.40" font-size="10.2" textLength="12.21" lengthAdjust="spacingAndGlyphs" font-family="Liberation Sans, sans-serif" fill="#666">1.0</text>
<text x="36.83" y="246.50" font-size="10.2" textLength="13.24" lengthAdjust="spacingAndGlyphs" font-family="Liberation Sans, sans-serif" fill="#666">0.0</text>
<text x="143.43" y="246.50" font-size="10.2" textLength="13.06" lengthAdjust="spacingAndGlyphs" font-family="Liberation Sans, sans-serif" fill="#666">0.5</text>
<text x="249.87" y="246.50" font-size="10.2" textLength="11.56" lengthAdjust="spacingAndGlyphs" font-family="Liberation Sans, sans-serif" fill="#666">1.0</text>
<text x="356.37" y="246.50" font-size="10.2" textLength="11.48" lengthAdjust="spacingAndGlyphs" font-family="Liberation Sans, sans-serif" fill="#666">1.5</text>
<text x="145.84" y="105.64" font-size="9.2" textLength="18.18" lengthAdjust="spacingAndGlyphs" font-family="Liberation Sans, sans-serif" fill="#666">0.03</text>
<text x="159.90" y="205.10" font-size="9.6" textLength="5.70" lengthAdjust="spacingAndGlyphs" font-family="Liberation Sans, sans-serif" fill="#666">0</text>
<text x="169.10" y="218.90" font-size="9.6" textLength="5.70" lengthAdjust="spacingAndGlyphs" font-family="Liberation Sans, sans-serif" fill="#666">0</text>
<text x="372.99" y="219.10" font-size="8.9" textLength="5.62" lengthAdjust="spacingAndGlyphs" font-family="Liberation Sans, sans-serif" fill="#666">2</text>
<text x="370.00" y="219.30" font-size="9.6" textLength="3.30" lengthAdjust="spacingAndGlyphs" font-family="Liberation Sans, sans-serif" fill="#666">/</text>
<text x="363.9" y="219.1" font-size="10.2" textLength="6.0" lengthAdjust="spacingAndGlyphs" font-family="Liberation Serif, serif" font-style="italic" fill="#666">π</text>
<text x="182.6" y="12.2" font-size="12.3" font-family="DejaVu Sans, sans-serif" fill="#000" textLength="11.8" lengthAdjust="spacingAndGlyphs">ℛ</text>
<text x="197.4" y="12.0" font-size="13.5" font-family="Liberation Serif, serif" fill="#000" textLength="10.2" lengthAdjust="spacingAndGlyphs">=</text>
<text x="210.8" y="12.3" font-size="14.2" font-family="Liberation Serif, serif" fill="#000" textLength="29.2" lengthAdjust="spacingAndGlyphs">0.980</text>
<text x="176.2" y="263.9" font-size="14.2" font-family="Liberation Serif, serif" fill="#000" textLength="70" lengthAdjust="spacingAndGlyphs">arctan (<tspan font-style="italic">a</tspan>/<tspan font-style="italic">Q</tspan>)</text>
<text transform="translate(12.2,151.5) rotate(-90)" font-size="14.2" font-family="Liberation Serif, serif" fill="#000" textLength="47" lengthAdjust="spacingAndGlyphs">Re(<tspan font-style="italic">ω r</tspan><tspan font-size="10.5" dy="2.6">+</tspan><tspan dy="-2.6">)</tspan></text>
<text x="245.6" y="218.6" font-size="10.5" font-family="Liberation Serif, serif" fill="#000" textLength="51.8" lengthAdjust="spacingAndGlyphs">arctan (<tspan font-style="italic">a</tspan>/<tspan font-style="italic">Q</tspan>)</text>
<text x="93.5" y="155.4" font-size="10.5" font-family="Liberation Serif, serif" fill="#000" textLength="71.5" lengthAdjust="spacingAndGlyphs">Re(<tspan font-style="italic">ω</tspan> − <tspan font-style="italic">m</tspan> Ω<tspan font-size="8" font-style="italic" dy="1.8">H</tspan><tspan dy="-1.8">)</tspan><tspan font-size="6"> </tspan><tspan font-style="italic">r</tspan><tspan font-size="8.5" dy="1.8">+</tspan></text>
</svg>
</body></html>
